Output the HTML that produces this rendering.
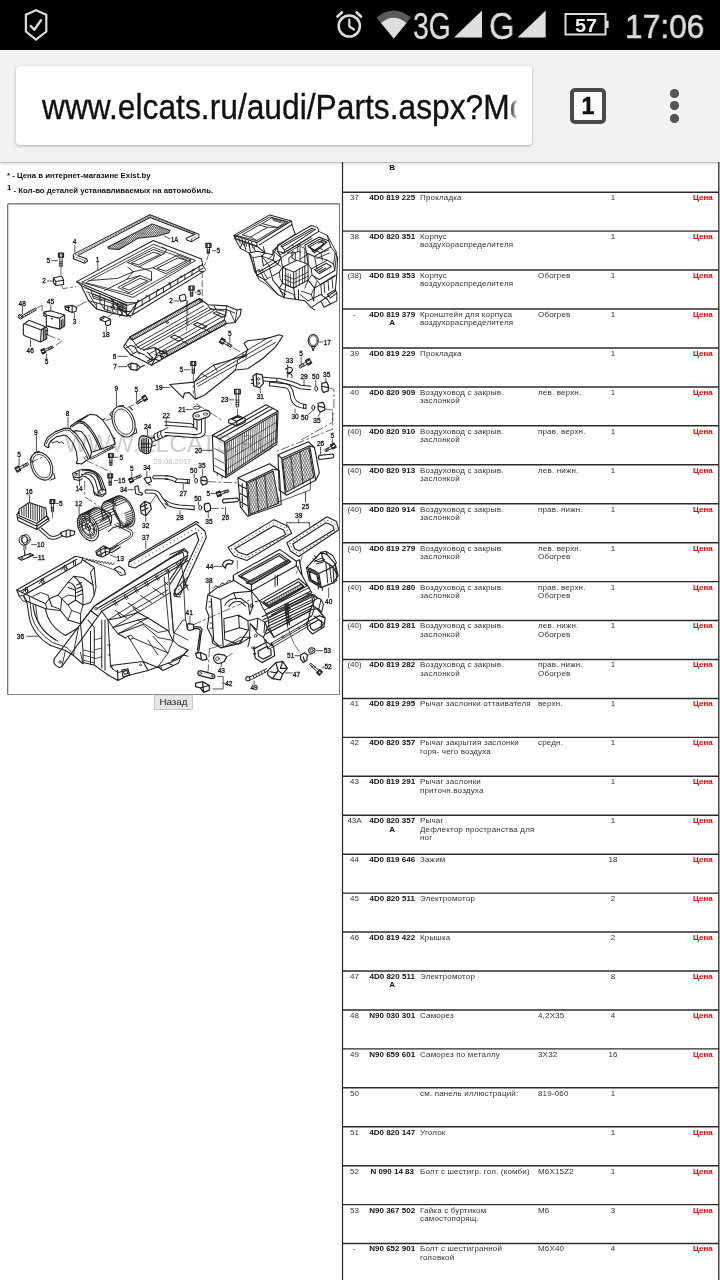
<!DOCTYPE html>
<html>
<head>
<meta charset="utf-8">
<style>
html,body{margin:0;padding:0;}
body{width:720px;height:1280px;overflow:hidden;background:#fff;position:relative;font-family:"Liberation Sans",sans-serif;}
.abs{position:absolute;}
.st{color:#dedede;white-space:nowrap;transform-origin:0 50%;}
#status{left:0;top:0;width:720px;height:50px;background:#000;}
.st{will-change:transform;}
#toolbar{left:0;top:50px;width:720px;height:112px;background:#f2f2f2;box-shadow:0 1px 2px rgba(0,0,0,0.35);z-index:5;}
#urlbox{will-change:transform;left:16px;top:16px;width:516px;height:79px;background:#fff;border-radius:4px;box-shadow:0 1px 3px rgba(0,0,0,0.3);overflow:hidden;}
#url{left:26px;top:20.5px;font-size:35.5px;line-height:40px;color:#111;white-space:nowrap;transform-origin:0 50%;transform:scaleX(0.8945);-webkit-text-stroke:0.35px #111;}
#urlfade{right:0;top:0;width:32px;height:79px;background:linear-gradient(to right,rgba(255,255,255,0) 30%,#fff 56%);}
#tabs{will-change:transform;left:570px;top:38px;width:28px;height:28px;border:4px solid #4a4a4a;border-radius:5px;text-align:center;font-weight:bold;font-size:23px;line-height:29px;color:#111;background:#fbfbfb;-webkit-text-stroke:0.5px #111;}
.dot{width:8.6px;height:8.6px;border-radius:50%;background:#555;left:670px;}
#page{left:0;top:162px;width:720px;height:1118px;overflow:hidden;will-change:transform;}
.note{font-size:7.8px;font-weight:bold;color:#111;white-space:nowrap;}
#diagram{left:7px;top:41px;width:333px;height:492px;}
#back{left:154px;top:533px;width:39px;height:15px;background:#e6e6e6;border:1px solid #c8c8c8;border-top-color:#ddd;box-sizing:border-box;font-size:9.8px;line-height:12px;text-align:center;color:#222;}
#tbl{left:342px;top:0;width:377px;height:1118px;box-sizing:border-box;}
.row{position:absolute;left:0;width:375px;height:39px;font-size:8px;line-height:8.4px;color:#333;box-sizing:border-box;}
.row div{position:absolute;top:2.5px;white-space:nowrap;}
.n{left:2.5px;width:20px;text-align:center;}
.p{left:23.2px;width:54px;text-align:center;font-weight:bold;color:#111;}
.d{left:78px;letter-spacing:0.17px;}
.r{left:196px;letter-spacing:0.17px;}
.q{left:257px;width:28px;text-align:center;}
.c{left:351px;color:#e00;font-weight:bold;}
</style>
</head>
<body>
<div id="status" class="abs">
<svg class="abs" style="left:0;top:0" width="720" height="50" viewBox="0 0 720 50">
<g fill="none" stroke="#dcdcdc" stroke-width="2.2" stroke-linejoin="round" stroke-linecap="round">
<path d="M36 10.3 L46.3 14.8 V31.5 L36 39.6 L25.9 31.5 V14.8 Z" stroke-linejoin="miter"/>
<path d="M30.8 26 L34.3 29.8 L41 20.2" stroke-width="2.4"/>
<circle cx="349.3" cy="26" r="10.6" stroke-width="2.5"/>
<path d="M349.3 19.5 V26.5 L354 29.5" stroke-width="2.2"/>
<path d="M337.5 16.5 L342 12.3 M361 16.5 L356.5 12.3" stroke-width="2.6"/>
</g>
<path d="M393.8 38.5 L376.5 17.5 Q393.8 3.5 411 17.5 Z" fill="#5a5a5a"/>
<path d="M393.8 38.5 L381 23 Q393.8 12.5 406.5 23 Z" fill="#dedede"/>
<path d="M482 10.5 V37.5 H454 Z" fill="#dedede"/>
<path d="M545.7 10.5 V37.5 H517.5 Z" fill="#dedede"/>
<rect x="565.5" y="14" width="40" height="20.5" fill="none" stroke="#dcdcdc" stroke-width="2"/>
<rect x="606" y="20.8" width="2.6" height="7.2" fill="#dcdcdc"/>
</svg>
<div class="abs st" style="left:413px;top:6.5px;font-size:36.5px;line-height:40px;transform:scaleX(0.775);-webkit-text-stroke:0.3px #dedede;">3G</div>
<div class="abs st" style="left:489px;top:6.5px;font-size:36.5px;line-height:40px;transform:scaleX(0.9);-webkit-text-stroke:0.3px #dedede;">G</div>
<div class="abs st" style="left:575px;top:15.8px;font-size:18px;line-height:20px;font-weight:bold;transform:scaleX(1.1);color:#f0f0f0">57</div>
<div class="abs st" style="left:624.5px;top:7px;font-size:33.2px;line-height:40px;transform:scaleX(0.955);-webkit-text-stroke:0.5px #dedede;">17:06</div>
</div>
<div id="toolbar" class="abs">
  <div id="urlbox" class="abs"><div id="url" class="abs">www.elcats.ru/audi/Parts.aspx?Model=</div><div id="urlfade" class="abs"></div></div>
  <div id="tabs" class="abs">1</div>
  <div class="abs dot" style="top:39px"></div><div class="abs dot" style="top:51px"></div><div class="abs dot" style="top:64px"></div>
</div>
<div id="page" class="abs">
  <div class="abs note" style="left:7px;top:9px;">* - Цена в интернет-магазине Exist.by</div>
  <div class="abs note" style="left:7px;top:24px;"><span style="position:relative;top:-3px;">1</span> - Кол-во деталей устанавливаемых на автомобиль.</div>
  <svg id="diagram" class="abs" viewBox="0 0 333 492" width="333" height="492">
<rect x="0.7" y="0.8" width="332" height="491" fill="#fff" stroke="#666" stroke-width="1.2" rx="1"/>
<!--DIAGRAM-->
<g font-family="Liberation Sans, sans-serif" stroke-linejoin="round" stroke-linecap="round">
<!--WATERMARK--><text x="57.6" y="249" font-size="24.5" fill="#cdcdcd" textLength="210" lengthAdjust="spacing">WWW.ELCATS.RU</text><text x="146.4" y="261.3" font-size="8" fill="#bdbdbd" textLength="38" lengthAdjust="spacingAndGlyphs">29.08.2017</text>
<g transform="translate(53.00 2.00) scale(0.22222)">
<path d="M60,222 L405,44 L625,132 L625,145 L592,165 L568,156 L568,150 L605,133 L405,56 L80,228 L120,242 L124,252 L110,262 L60,242 Z" fill="none" stroke="#222" stroke-width="1.01" vector-effect="non-scaling-stroke"/>
<path d="M70,226 L405,50 L614,132 M60,232 L110,250 L122,244 M110,250 V262 M592,154 V165 M592,154 L615,140" fill="none" stroke="#222" stroke-width="0.67" vector-effect="non-scaling-stroke" stroke-dasharray="1.5 1.5"/>
<clipPath id="h1a"><path d="M215,190 L415,85 L495,115 L490,125 L440,140 L350,150 L265,200 L220,197 Z"/></clipPath>
<g clip-path="url(#h1a)">
<path d="M-180,200 L-84,85 M-180,85 L-84,200 M-171,200 L-74,85 M-171,85 L-74,200 M-161,200 L-65,85 M-161,85 L-65,200 M-152,200 L-55,85 M-152,85 L-55,200 M-142,200 L-46,85 M-142,85 L-46,200 M-133,200 L-36,85 M-133,85 L-36,200 M-123,200 L-27,85 M-123,85 L-27,200 M-114,200 L-17,85 M-114,85 L-17,200 M-104,200 L-8,85 M-104,85 L-8,200 M-95,200 L2,85 M-95,85 L2,200 M-86,200 L11,85 M-86,85 L11,200 M-76,200 L20,85 M-76,85 L20,200 M-67,200 L30,85 M-67,85 L30,200 M-57,200 L39,85 M-57,85 L39,200 M-48,200 L49,85 M-48,85 L49,200 M-38,200 L58,85 M-38,85 L58,200 M-29,200 L68,85 M-29,85 L68,200 M-19,200 L77,85 M-19,85 L77,200 M-10,200 L87,85 M-10,85 L87,200 M-0,200 L96,85 M-0,85 L96,200 M9,200 L105,85 M9,85 L105,200 M18,200 L115,85 M18,85 L115,200 M28,200 L124,85 M28,85 L124,200 M37,200 L134,85 M37,85 L134,200 M47,200 L143,85 M47,85 L143,200 M56,200 L153,85 M56,85 L153,200 M66,200 L162,85 M66,85 L162,200 M75,200 L172,85 M75,85 L172,200 M85,200 L181,85 M85,85 L181,200 M94,200 L191,85 M94,85 L191,200 M104,200 L200,85 M104,85 L200,200 M113,200 L209,85 M113,85 L209,200 M122,200 L219,85 M122,85 L219,200 M132,200 L228,85 M132,85 L228,200 M141,200 L238,85 M141,85 L238,200 M151,200 L247,85 M151,85 L247,200 M160,200 L257,85 M160,85 L257,200 M170,200 L266,85 M170,85 L266,200 M179,200 L276,85 M179,85 L276,200 M189,200 L285,85 M189,85 L285,200 M198,200 L294,85 M198,85 L294,200 M207,200 L304,85 M207,85 L304,200 M217,200 L313,85 M217,85 L313,200 M226,200 L323,85 M226,85 L323,200 M236,200 L332,85 M236,85 L332,200 M245,200 L342,85 M245,85 L342,200 M255,200 L351,85 M255,85 L351,200 M264,200 L361,85 M264,85 L361,200 M274,200 L370,85 M274,85 L370,200 M283,200 L380,85 M283,85 L380,200 M292,200 L389,85 M292,85 L389,200 M302,200 L398,85 M302,85 L398,200 M311,200 L408,85 M311,85 L408,200 M321,200 L417,85 M321,85 L417,200 M330,200 L427,85 M330,85 L427,200 M340,200 L436,85 M340,85 L436,200 M349,200 L446,85 M349,85 L446,200 M359,200 L455,85 M359,85 L455,200 M368,200 L465,85 M368,85 L465,200 M378,200 L474,85 M378,85 L474,200 M387,200 L483,85 M387,85 L483,200 M396,200 L493,85 M396,85 L493,200 M406,200 L502,85 M406,85 L502,200 M415,200 L512,85 M415,85 L512,200 M425,200 L521,85 M425,85 L521,200 M434,200 L531,85 M434,85 L531,200 M444,200 L540,85 M444,85 L540,200 M453,200 L550,85 M453,85 L550,200 M463,200 L559,85 M463,85 L559,200 M472,200 L569,85 M472,85 L569,200 M481,200 L578,85 M481,85 L578,200 M491,200 L587,85 M491,85 L587,200 M500,200 L597,85 M500,85 L597,200 M510,200 L606,85 M510,85 L606,200 M519,200 L616,85 M519,85 L616,200 M529,200 L625,85 M529,85 L625,200 M538,200 L635,85 M538,85 L635,200 M548,200 L644,85 M548,85 L644,200 M557,200 L654,85 M557,85 L654,200 M567,200 L663,85 M567,85 L663,200 M576,200 L672,85 M576,85 L672,200 M585,200 L682,85 M585,85 L682,200 M595,200 L691,85 M595,85 L691,200 M604,200 L701,85 M604,85 L701,200 M614,200 L710,85 M614,85 L710,200 M623,200 L720,85 M623,85 L720,200 M633,200 L729,85 M633,85 L729,200 M642,200 L739,85 M642,85 L739,200 M652,200 L748,85 M652,85 L748,200 M661,200 L758,85 M661,85 L758,200 M671,200 L767,85 M671,85 L767,200 M680,200 L776,85 M680,85 L776,200 M689,200 L786,85 M689,85 L786,200 M699,200 L795,85 M699,85 L795,200 M708,200 L805,85 M708,85 L805,200 M718,200 L814,85 M718,85 L814,200 M727,200 L824,85 M727,85 L824,200 M737,200 L833,85 M737,85 L833,200 M746,200 L843,85 M746,85 L843,200 M756,200 L852,85 M756,85 L852,200 M765,200 L861,85 M765,85 L861,200 M774,200 L871,85 M774,85 L871,200 M784,200 L880,85 M784,85 L880,200 M793,200 L890,85 M793,85 L890,200 M803,200 L899,85 M803,85 L899,200 M812,200 L909,85 M812,85 L909,200 M822,200 L918,85 M822,85 L918,200 M831,200 L928,85 M831,85 L928,200 M841,200 L937,85 M841,85 L937,200 M850,200 L947,85 M850,85 L947,200 M860,200 L956,85 M860,85 L956,200 M869,200 L965,85 M869,85 L965,200 M878,200 L975,85 M878,85 L975,200 M888,200 L984,85 M888,85 L984,200 " fill="none" stroke="#333" stroke-width="0.62" vector-effect="non-scaling-stroke"/>
</g>
<path d="M215,190 L415,85 L495,115 L490,125 L440,140 L350,150 L265,200 L220,197 Z" fill="none" stroke="#222" stroke-width="1.01" vector-effect="non-scaling-stroke"/>
<text x="516" y="157" font-size="32.9" fill="#111" stroke="#111" stroke-width="0.3" vector-effect="non-scaling-stroke" text-anchor="middle" dominant-baseline="central" font-weight="normal" textLength="32.9" lengthAdjust="spacingAndGlyphs">1A</text>
<path d="M470,140 L495,152" fill="none" stroke="#222" stroke-width="0.78" vector-effect="non-scaling-stroke"/>
<text x="66" y="166" font-size="32.9" fill="#111" stroke="#111" stroke-width="0.3" vector-effect="non-scaling-stroke" text-anchor="middle" dominant-baseline="central" font-weight="normal" textLength="16.4" lengthAdjust="spacingAndGlyphs">4</text>
<path d="M67,182 V213" fill="none" stroke="#222" stroke-width="0.78" vector-effect="non-scaling-stroke"/>
<text x="169" y="246" font-size="32.9" fill="#111" stroke="#111" stroke-width="0.3" vector-effect="non-scaling-stroke" text-anchor="middle" dominant-baseline="central" font-weight="normal" textLength="16.4" lengthAdjust="spacingAndGlyphs">1</text>
<path d="M170,260 V292" fill="none" stroke="#222" stroke-width="0.78" vector-effect="non-scaling-stroke"/>
<path d="M75,345 L420,160 L637,243 L642,268 L345,440 L300,440 Z" fill="none" stroke="#222" stroke-width="1.01" vector-effect="non-scaling-stroke"/>
<path d="M100,347 L420,177 L610,250 L330,415 Z" fill="none" stroke="#222" stroke-width="0.9" vector-effect="non-scaling-stroke"/>
<path d="M118,349 L420,190 L590,255 L325,402 Z" fill="none" stroke="#222" stroke-width="0.78" vector-effect="non-scaling-stroke"/>
<path d="M75,345 L95,362 L128,430 L165,468 L215,482 L300,500 L325,495 L345,440" fill="none" stroke="#222" stroke-width="1.12" vector-effect="non-scaling-stroke"/>
<path d="M95,362 L300,452 L345,440 M300,452 V500 M128,430 L215,455 L215,482 M165,468 V440 M215,455 L300,475 M180,400 V445 M240,425 V470 M140,385 L150,420 L190,430" fill="none" stroke="#222" stroke-width="0.9" vector-effect="non-scaling-stroke"/>
<path d="M150,400 L290,455 M150,410 L290,465 M130,400 L160,450 M120,390 L300,462 M200,420 V470 M260,440 V490 M280,450 V495 M110,372 L300,448 M230,455 L240,485 M185,445 L200,470 L230,478" fill="none" stroke="#222" stroke-width="0.9" vector-effect="non-scaling-stroke"/>
<path d="M325,495 L645,300 M335,470 L643,285 M300,500 L320,478 M320,478 L345,440" fill="none" stroke="#222" stroke-width="1.01" vector-effect="non-scaling-stroke"/>
<path d="M370,452 v-22" fill="none" stroke="#222" stroke-width="0.9" vector-effect="non-scaling-stroke"/>
<path d="M402,432 v-22" fill="none" stroke="#222" stroke-width="0.9" vector-effect="non-scaling-stroke"/>
<path d="M434,413 v-22" fill="none" stroke="#222" stroke-width="0.9" vector-effect="non-scaling-stroke"/>
<path d="M466,394 v-22" fill="none" stroke="#222" stroke-width="0.9" vector-effect="non-scaling-stroke"/>
<path d="M498,374 v-22" fill="none" stroke="#222" stroke-width="0.9" vector-effect="non-scaling-stroke"/>
<path d="M530,354 v-22" fill="none" stroke="#222" stroke-width="0.9" vector-effect="non-scaling-stroke"/>
<path d="M562,335 v-22" fill="none" stroke="#222" stroke-width="0.9" vector-effect="non-scaling-stroke"/>
<path d="M594,316 v-22" fill="none" stroke="#222" stroke-width="0.9" vector-effect="non-scaling-stroke"/>
<path d="M626,296 v-22" fill="none" stroke="#222" stroke-width="0.9" vector-effect="non-scaling-stroke"/>
<path d="M255,470 L300,480 L320,478 M270,440 L300,452 M262,455 L298,468" fill="none" stroke="#222" stroke-width="1.12" vector-effect="non-scaling-stroke"/>
<path d="M305,258 L420,200 L470,218 L355,278 Z M322,260 L420,212 L452,222 L355,268 Z" fill="none" stroke="#222" stroke-width="0.9" vector-effect="non-scaling-stroke"/>
<path d="M420,282 L530,225 L590,247 L478,308 Z M438,284 L530,238 L570,250 L478,297 Z" fill="none" stroke="#222" stroke-width="0.9" vector-effect="non-scaling-stroke"/>
<path d="M262,370 L360,318 L412,338 L312,394 Z M280,371 L360,330 L394,341 L312,382 Z" fill="none" stroke="#222" stroke-width="0.9" vector-effect="non-scaling-stroke"/>
<path d="M200,385 L300,335 L330,300 L305,280 M300,335 L360,318 M330,300 L420,282 M355,278 L412,300 L412,338 M130,340 L260,330 L330,300 M470,218 L480,200 L460,190" fill="none" stroke="#222" stroke-width="0.9" vector-effect="non-scaling-stroke"/>
<circle cx="600" cy="292" r="4" fill="none" stroke="#2a2a2a" stroke-width="0.8" vector-effect="non-scaling-stroke"/>
<circle cx="545" cy="323" r="4" fill="none" stroke="#2a2a2a" stroke-width="0.8" vector-effect="non-scaling-stroke"/>
<circle cx="492" cy="353" r="4" fill="none" stroke="#2a2a2a" stroke-width="0.8" vector-effect="non-scaling-stroke"/>
<circle cx="440" cy="383" r="4" fill="none" stroke="#2a2a2a" stroke-width="0.8" vector-effect="non-scaling-stroke"/>
<circle cx="390" cy="410" r="4" fill="none" stroke="#2a2a2a" stroke-width="0.8" vector-effect="non-scaling-stroke"/>
<circle cx="352" cy="432" r="4" fill="none" stroke="#2a2a2a" stroke-width="0.8" vector-effect="non-scaling-stroke"/>
<path d="M640,270 L655,290 L650,300 L630,300" fill="none" stroke="#222" stroke-width="0.9" vector-effect="non-scaling-stroke"/>
<g transform="translate(668 183) rotate(0)">
<path d="M-11.7,-10.5 H11.7 V8.2 H-11.7 Z M-5.9,-10.5 V8.2 M5.9,-10.5 V8.2" fill="none" stroke="#222" stroke-width="1.12" vector-effect="non-scaling-stroke"/>
<path d="M-5.3,8.2 V36.0 H5.3 V8.2 M-5.3,19.8 H5.3 M-5.3,25.2 H5.3 M-5.3,30.6 H5.3" fill="none" stroke="#222" stroke-width="0.9" vector-effect="non-scaling-stroke"/>
</g>
<text x="712" y="207" font-size="32.9" fill="#111" stroke="#111" stroke-width="0.3" vector-effect="non-scaling-stroke" text-anchor="middle" dominant-baseline="central" font-weight="normal" textLength="16.4" lengthAdjust="spacingAndGlyphs">5</text>
<path d="M686,206 H700" fill="none" stroke="#222" stroke-width="0.78" vector-effect="non-scaling-stroke"/>
<path d="M668,225 L655,262 L640,285" fill="none" stroke="#222" stroke-width="0.67" vector-effect="non-scaling-stroke" stroke-dasharray="5 3"/>
<g transform="translate(592 375) rotate(0)">
<path d="M-11.7,-10.5 H11.7 V8.2 H-11.7 Z M-5.9,-10.5 V8.2 M5.9,-10.5 V8.2" fill="none" stroke="#222" stroke-width="1.12" vector-effect="non-scaling-stroke"/>
<path d="M-5.3,8.2 V36.0 H5.3 V8.2 M-5.3,19.8 H5.3 M-5.3,25.2 H5.3 M-5.3,30.6 H5.3" fill="none" stroke="#222" stroke-width="0.9" vector-effect="non-scaling-stroke"/>
</g>
<text x="626" y="393" font-size="32.9" fill="#111" stroke="#111" stroke-width="0.3" vector-effect="non-scaling-stroke" text-anchor="middle" dominant-baseline="central" font-weight="normal" textLength="16.4" lengthAdjust="spacingAndGlyphs">5</text>
<path d="M608,393 H614" fill="none" stroke="#222" stroke-width="0.78" vector-effect="non-scaling-stroke"/>
<path d="M538,408 L560,402 L566,412 L566,428 L545,434 L538,424 Z" fill="none" stroke="#222" stroke-width="1.12" vector-effect="non-scaling-stroke"/>
<text x="500" y="432" font-size="32.9" fill="#111" stroke="#111" stroke-width="0.3" vector-effect="non-scaling-stroke" text-anchor="middle" dominant-baseline="central" font-weight="normal" textLength="16.4" lengthAdjust="spacingAndGlyphs">2</text>
<path d="M512,432 H535" fill="none" stroke="#222" stroke-width="0.78" vector-effect="non-scaling-stroke"/>
<path d="M575,430 V540 M640,300 V440" fill="none" stroke="#222" stroke-width="0.67" vector-effect="non-scaling-stroke" stroke-dasharray="6 3"/>
</g>
<g transform="translate(218.00 2.00) scale(0.15974)">
<path d="M55,190 L280,62 L415,100 L200,235 Z M55,190 L62,208 L200,257 L200,235 M415,100 L420,122 L215,250" fill="none" stroke="#222" stroke-width="1.01" vector-effect="non-scaling-stroke"/>
<path d="M110,185 L215,125 L265,140 L160,200 Z M235,115 L290,82 L380,105 L330,140 Z M75,190 L280,75 L395,105 L200,222 Z" fill="none" stroke="#222" stroke-width="0.9" vector-effect="non-scaling-stroke"/>
<path d="M215,125 L235,115 M265,140 L330,140 M160,200 L200,222 M300,90 L360,108 M305,97 L350,111" fill="none" stroke="#222" stroke-width="0.78" vector-effect="non-scaling-stroke"/>
<path d="M200,257 L250,300 L300,312 L330,257 L440,182 L418,122 M250,300 L240,262 M300,312 L300,285 L330,257" fill="none" stroke="#222" stroke-width="1.01" vector-effect="non-scaling-stroke"/>
<path d="M330,250 L540,128 L580,140 L587,165 L372,300 L330,290 Z M350,256 L540,146 L566,153 L372,282 Z M360,262 L545,156 M372,300 V282" fill="none" stroke="#222" stroke-width="1.01" vector-effect="non-scaling-stroke"/>
<path d="M500,250 L590,200 L650,225 L662,262 L560,322 L510,300 Z M520,255 L590,215 L635,235 L560,300 Z M530,262 L590,228 L620,240 L560,288 Z" fill="none" stroke="#222" stroke-width="1.01" vector-effect="non-scaling-stroke"/>
<path d="M540,400 L640,345 L680,370 L687,410 L590,466 L545,440 Z M560,405 L635,365 L665,385 L590,430 Z M575,412 L610,392 M590,418 L630,395 M600,425 L650,395" fill="none" stroke="#222" stroke-width="1.01" vector-effect="non-scaling-stroke"/>
<path d="M587,165 L640,190 L650,225 M662,262 L690,300 L680,370 M510,300 L520,370 L540,400 M560,322 L575,395 M640,190 L700,300 L687,410" fill="none" stroke="#222" stroke-width="0.9" vector-effect="non-scaling-stroke"/>
<path d="M360,390 L450,345 L520,370 L520,470 L430,520 L360,490 Z M360,390 L430,420 L520,370 M430,420 V520 M380,400 V497 M500,380 V480" fill="none" stroke="#222" stroke-width="1.01" vector-effect="non-scaling-stroke"/>
<path d="M440,300 V350 M470,295 V355 M440,300 L455,290 L470,295 M420,330 L440,345 M470,340 L500,320 L500,365 M400,360 L400,330 L430,310" fill="none" stroke="#222" stroke-width="0.9" vector-effect="non-scaling-stroke"/>
<path d="M360,490 L340,520 L370,580 L500,600 L540,642 L600,602 L690,540 L700,430 M430,520 L440,590 M520,470 L560,520 L690,440 M560,520 L555,600 M370,580 L380,500 M460,530 V595 M520,600 L600,560 L640,590 M640,560 L690,530 L700,552 L660,582 Z" fill="none" stroke="#222" stroke-width="1.01" vector-effect="non-scaling-stroke"/>
<path d="M62,208 L95,270 L150,300 L200,440 L250,470 L330,560 L370,580 M95,270 L110,235 M150,300 L200,290 L250,300 M150,250 L160,295 M180,262 L190,290 M120,240 L130,280" fill="none" stroke="#222" stroke-width="1.01" vector-effect="non-scaling-stroke"/>
<path d="M200,440 L330,370 L352,330 L330,290 M210,420 L320,355 M230,320 L300,345 L330,370 M230,320 L250,300 M250,470 L340,420 L360,390 M200,440 L190,420 L215,405 M280,400 L300,470 L340,520 M230,320 L240,380 M300,345 L310,312" fill="none" stroke="#222" stroke-width="1.01" vector-effect="non-scaling-stroke"/>
<path d="M330,370 L350,385 M320,355 L345,340 M262,360 L285,395 M340,420 L345,460 L360,490" fill="none" stroke="#222" stroke-width="0.9" vector-effect="non-scaling-stroke"/>
<path d="M85,200 L95,240 M105,207 L115,250 M125,215 L135,258 M145,222 L155,265 M165,230 L175,270 M70,215 L200,262 M62,208 L75,190" fill="none" stroke="#222" stroke-width="0.9" vector-effect="non-scaling-stroke"/>
<path d="M300,285 L350,330 L400,300 M350,330 L360,390 M400,300 L440,300 M330,290 L345,310 L372,300 M380,290 L540,200 M390,300 L545,210" fill="none" stroke="#222" stroke-width="0.9" vector-effect="non-scaling-stroke"/>
<path d="M520,262 L600,300 L650,280 M600,300 L610,345 M560,322 L640,345 M575,335 L655,300 M600,210 L640,235 M610,225 L585,240 M545,290 L585,268 L612,280" fill="none" stroke="#222" stroke-width="0.9" vector-effect="non-scaling-stroke"/>
<path d="M560,455 L600,500 L690,445 M600,500 L605,560 M575,480 L560,520 M620,490 L625,550 M645,475 L650,535 M670,460 L675,520 M540,440 L520,470" fill="none" stroke="#222" stroke-width="0.9" vector-effect="non-scaling-stroke"/>
<path d="M380,500 L430,522 M395,430 V500 M410,436 V510 M445,415 V515 M465,402 V505 M485,392 V492 M372,440 L430,465 L520,420 M372,465 L430,490 L520,445" fill="none" stroke="#222" stroke-width="0.78" vector-effect="non-scaling-stroke"/>
<path d="M240,380 L300,345 M215,405 L250,470 M230,400 L262,455 M200,440 L215,470 L250,490 L330,560 M262,360 L230,320 M270,340 L300,312 M150,300 L175,330 L230,320 M175,330 L200,440 M160,310 L185,420" fill="none" stroke="#222" stroke-width="0.9" vector-effect="non-scaling-stroke"/>
<path d="M340,520 L430,560 L440,590 M345,540 L380,560 M470,560 L520,600 M480,540 L540,560 L555,600 M540,560 L560,520 M500,520 L520,470" fill="none" stroke="#222" stroke-width="0.9" vector-effect="non-scaling-stroke"/>
<path d="M455,290 L455,250 L470,245 L470,295 M440,300 L420,290 L420,330 M500,320 L520,310 L520,370 M425,255 L440,262 M480,262 L500,272 L500,320" fill="none" stroke="#222" stroke-width="0.9" vector-effect="non-scaling-stroke"/>
<path d="M690,300 L705,330 L700,430 M640,590 L660,620 L700,600 L700,552 M600,602 L620,640 L660,620 M540,642 L560,657" fill="none" stroke="#222" stroke-width="1.01" vector-effect="non-scaling-stroke"/>
</g>
<g transform="translate(1.00 92.00) scale(0.16667)">
<text x="85" y="48" font-size="43.8" fill="#111" stroke="#111" stroke-width="0.3" vector-effect="non-scaling-stroke" text-anchor="middle" dominant-baseline="central" font-weight="normal" textLength="43.8" lengthAdjust="spacingAndGlyphs">48</text>
<path d="M87,68 V112" fill="none" stroke="#222" stroke-width="0.78" vector-effect="non-scaling-stroke"/>
<circle cx="75" cy="130" r="14" fill="none" stroke="#2a2a2a" stroke-width="1.0" vector-effect="non-scaling-stroke"/>
<circle cx="75" cy="130" r="7" fill="none" stroke="#2a2a2a" stroke-width="0.8" vector-effect="non-scaling-stroke"/>
<path d="M88,122 L165,78 M92,134 L170,90 M100,115 l6,12 M112,108 l6,12 M124,101 l6,12 M136,94 l6,12 M148,87 l6,12 M160,80 l6,12" fill="none" stroke="#222" stroke-width="0.9" vector-effect="non-scaling-stroke"/>
<path d="M170,80 L205,62 V95" fill="none" stroke="#222" stroke-width="0.67" vector-effect="non-scaling-stroke"/>
<text x="255" y="40" font-size="43.8" fill="#111" stroke="#111" stroke-width="0.3" vector-effect="non-scaling-stroke" text-anchor="middle" dominant-baseline="central" font-weight="normal" textLength="43.8" lengthAdjust="spacingAndGlyphs">45</text>
<path d="M257,60 V95" fill="none" stroke="#222" stroke-width="0.78" vector-effect="non-scaling-stroke"/>
<path d="M230,120 L310,140 L310,205 L230,185 Z M215,103 L255,95 L340,120 L310,140 L230,120 Z M340,120 V185 L310,205 M320,150 V198 M330,145 V192 M215,103 V125 L230,130" fill="none" stroke="#222" stroke-width="1.12" vector-effect="non-scaling-stroke"/>
<circle cx="262" cy="142" r="4" fill="none" stroke="#2a2a2a" stroke-width="0.7" vector-effect="non-scaling-stroke"/>
<path d="M100,172 L125,152 L225,190 L200,210 Z M92,180 Q92,172 100,172 L200,210 L195,282 L100,245 Q92,240 92,232 Z M200,210 L225,190 L236,200 L232,262 L195,282 M212,205 V272 M222,197 V266 M225,215 h14 M225,235 h14" fill="none" stroke="#222" stroke-width="1.12" vector-effect="non-scaling-stroke"/>
<text x="133" y="330" font-size="43.8" fill="#111" stroke="#111" stroke-width="0.3" vector-effect="non-scaling-stroke" text-anchor="middle" dominant-baseline="central" font-weight="normal" textLength="43.8" lengthAdjust="spacingAndGlyphs">46</text>
<path d="M135,268 V310" fill="none" stroke="#222" stroke-width="0.78" vector-effect="non-scaling-stroke"/>
<path d="M238,240 L325,275 L290,300" fill="none" stroke="#222" stroke-width="0.67" vector-effect="non-scaling-stroke" stroke-dasharray="8 3 2 3"/>
<g transform="translate(213 337) rotate(-115)">
<path d="M-13.0,-11.7 H13.0 V9.1 H-13.0 Z M-6.5,-11.7 V9.1 M6.5,-11.7 V9.1" fill="none" stroke="#222" stroke-width="1.12" vector-effect="non-scaling-stroke"/>
<path d="M-5.9,9.1 V62.0 H5.9 V9.1 M-5.9,34.1 H5.9 M-5.9,43.4 H5.9 M-5.9,52.7 H5.9" fill="none" stroke="#222" stroke-width="0.9" vector-effect="non-scaling-stroke"/>
</g>
<text x="232" y="400" font-size="43.8" fill="#111" stroke="#111" stroke-width="0.3" vector-effect="non-scaling-stroke" text-anchor="middle" dominant-baseline="central" font-weight="normal" textLength="21.9" lengthAdjust="spacingAndGlyphs">5</text>
<path d="M232,355 V380" fill="none" stroke="#222" stroke-width="0.78" vector-effect="non-scaling-stroke"/>
<path d="M340,68 L385,62 L412,75 L408,98 L385,105 L365,98 L345,85 Z M360,68 L365,98 M385,62 V105 M350,75 h20" fill="none" stroke="#222" stroke-width="1.12" vector-effect="non-scaling-stroke"/>
<text x="400" y="160" font-size="43.8" fill="#111" stroke="#111" stroke-width="0.3" vector-effect="non-scaling-stroke" text-anchor="middle" dominant-baseline="central" font-weight="normal" textLength="21.9" lengthAdjust="spacingAndGlyphs">3</text>
<path d="M398,107 V140" fill="none" stroke="#222" stroke-width="0.78" vector-effect="non-scaling-stroke"/>
<path d="M415,68 L470,40" fill="none" stroke="#222" stroke-width="0.67" vector-effect="non-scaling-stroke"/>
<path d="M553,140 L575,128 L615,145 L615,175 L600,185 L585,178 L585,160 L553,150 Z M585,160 L615,145 M575,128 V140 L553,150" fill="none" stroke="#222" stroke-width="1.12" vector-effect="non-scaling-stroke"/>
<text x="588" y="238" font-size="43.8" fill="#111" stroke="#111" stroke-width="0.3" vector-effect="non-scaling-stroke" text-anchor="middle" dominant-baseline="central" font-weight="normal" textLength="43.8" lengthAdjust="spacingAndGlyphs">18</text>
<path d="M590,190 V218" fill="none" stroke="#222" stroke-width="0.78" vector-effect="non-scaling-stroke"/>
<path d="M600,130 L650,100" fill="none" stroke="#222" stroke-width="0.67" vector-effect="non-scaling-stroke"/>
<text x="640" y="368" font-size="43.8" fill="#111" stroke="#111" stroke-width="0.3" vector-effect="non-scaling-stroke" text-anchor="middle" dominant-baseline="central" font-weight="normal" textLength="21.9" lengthAdjust="spacingAndGlyphs">6</text>
<path d="M660,368 H715" fill="none" stroke="#222" stroke-width="0.78" vector-effect="non-scaling-stroke"/>
<text x="643" y="430" font-size="43.8" fill="#111" stroke="#111" stroke-width="0.3" vector-effect="non-scaling-stroke" text-anchor="middle" dominant-baseline="central" font-weight="normal" textLength="21.9" lengthAdjust="spacingAndGlyphs">7</text>
<path d="M660,430 H712" fill="none" stroke="#222" stroke-width="0.78" vector-effect="non-scaling-stroke"/>
</g>
<g transform="translate(103.00 82.00) scale(0.20833)">
<path d="M65,295 L95,250 L430,65 L470,95 L560,100 L610,120 L630,115 L625,145 L600,180 L560,185 L250,355 L200,385 L170,370 L100,335 Z" fill="none" stroke="#222" stroke-width="1.12" vector-effect="non-scaling-stroke"/>
<clipPath id="h6a"><path d="M95,250 L430,65 L442,80 L107,264 Z"/></clipPath>
<g clip-path="url(#h6a)">
<path d="M-451,264 L-336,65 M-442,264 L-327,65 M-434,264 L-319,65 M-425,264 L-310,65 M-416,264 L-302,65 M-408,264 L-293,65 M-399,264 L-284,65 M-391,264 L-276,65 M-382,264 L-267,65 M-373,264 L-258,65 M-365,264 L-250,65 M-356,264 L-241,65 M-347,264 L-232,65 M-339,264 L-224,65 M-330,264 L-215,65 M-321,264 L-207,65 M-313,264 L-198,65 M-304,264 L-189,65 M-295,264 L-181,65 M-287,264 L-172,65 M-278,264 L-163,65 M-270,264 L-155,65 M-261,264 L-146,65 M-252,264 L-137,65 M-244,264 L-129,65 M-235,264 L-120,65 M-226,264 L-111,65 M-218,264 L-103,65 M-209,264 L-94,65 M-200,264 L-86,65 M-192,264 L-77,65 M-183,264 L-68,65 M-175,264 L-60,65 M-166,264 L-51,65 M-157,264 L-42,65 M-149,264 L-34,65 M-140,264 L-25,65 M-131,264 L-16,65 M-123,264 L-8,65 M-114,264 L1,65 M-105,264 L9,65 M-97,264 L18,65 M-88,264 L27,65 M-79,264 L35,65 M-71,264 L44,65 M-62,264 L53,65 M-54,264 L61,65 M-45,264 L70,65 M-36,264 L79,65 M-28,264 L87,65 M-19,264 L96,65 M-10,264 L105,65 M-2,264 L113,65 M7,264 L122,65 M16,264 L130,65 M24,264 L139,65 M33,264 L148,65 M41,264 L156,65 M50,264 L165,65 M59,264 L174,65 M67,264 L182,65 M76,264 L191,65 M85,264 L200,65 M93,264 L208,65 M102,264 L217,65 M111,264 L225,65 M119,264 L234,65 M128,264 L243,65 M137,264 L251,65 M145,264 L260,65 M154,264 L269,65 M162,264 L277,65 M171,264 L286,65 M180,264 L295,65 M188,264 L303,65 M197,264 L312,65 M206,264 L321,65 M214,264 L329,65 M223,264 L338,65 M232,264 L346,65 M240,264 L355,65 M249,264 L364,65 M257,264 L372,65 M266,264 L381,65 M275,264 L390,65 M283,264 L398,65 M292,264 L407,65 M301,264 L416,65 M309,264 L424,65 M318,264 L433,65 M327,264 L441,65 M335,264 L450,65 M344,264 L459,65 M353,264 L467,65 M361,264 L476,65 M370,264 L485,65 M378,264 L493,65 M387,264 L502,65 M396,264 L511,65 M404,264 L519,65 M413,264 L528,65 M422,264 L537,65 M430,264 L545,65 M439,264 L554,65 M448,264 L562,65 M456,264 L571,65 M465,264 L580,65 M473,264 L588,65 M482,264 L597,65 M491,264 L606,65 M499,264 L614,65 M508,264 L623,65 M517,264 L632,65 M525,264 L640,65 M534,264 L649,65 M543,264 L657,65 M551,264 L666,65 M560,264 L675,65 M569,264 L683,65 M577,264 L692,65 M586,264 L701,65 M594,264 L709,65 M603,264 L718,65 M612,264 L727,65 M620,264 L735,65 M629,264 L744,65 M638,264 L753,65 M646,264 L761,65 M655,264 L770,65 M664,264 L778,65 M672,264 L787,65 M681,264 L796,65 M689,264 L804,65 M698,264 L813,65 M707,264 L822,65 M715,264 L830,65 M724,264 L839,65 M733,264 L848,65 M741,264 L856,65 M750,264 L865,65 M759,264 L873,65 M767,264 L882,65 M776,264 L891,65 M785,264 L899,65 M793,264 L908,65 M802,264 L917,65 M810,264 L925,65 M819,264 L934,65 M828,264 L943,65 M836,264 L951,65 M845,264 L960,65 M854,264 L969,65 M862,264 L977,65 M871,264 L986,65 M880,264 L994,65 M888,264 L1003,65 M897,264 L1012,65 M905,264 L1020,65 M914,264 L1029,65 M923,264 L1038,65 M931,264 L1046,65 M940,264 L1055,65 M949,264 L1064,65 M957,264 L1072,65 M966,264 L1081,65 M975,264 L1089,65 M983,264 L1098,65 " fill="none" stroke="#333" stroke-width="0.67" vector-effect="non-scaling-stroke"/>
</g>
<path d="M95,250 L430,65 L442,80 L107,264 Z" fill="none" stroke="#222" stroke-width="1.01" vector-effect="non-scaling-stroke"/>
<clipPath id="h6b"><path d="M240,338 L550,168 L560,185 L250,355 Z"/></clipPath>
<g clip-path="url(#h6b)">
<path d="M-267,355 L-159,168 M-258,355 L-150,168 M-250,355 L-142,168 M-241,355 L-133,168 M-232,355 L-124,168 M-224,355 L-116,168 M-215,355 L-107,168 M-207,355 L-99,168 M-198,355 L-90,168 M-189,355 L-81,168 M-181,355 L-73,168 M-172,355 L-64,168 M-163,355 L-55,168 M-155,355 L-47,168 M-146,355 L-38,168 M-137,355 L-29,168 M-129,355 L-21,168 M-120,355 L-12,168 M-111,355 L-4,168 M-103,355 L5,168 M-94,355 L14,168 M-86,355 L22,168 M-77,355 L31,168 M-68,355 L40,168 M-60,355 L48,168 M-51,355 L57,168 M-42,355 L66,168 M-34,355 L74,168 M-25,355 L83,168 M-16,355 L92,168 M-8,355 L100,168 M1,355 L109,168 M9,355 L117,168 M18,355 L126,168 M27,355 L135,168 M35,355 L143,168 M44,355 L152,168 M53,355 L161,168 M61,355 L169,168 M70,355 L178,168 M79,355 L187,168 M87,355 L195,168 M96,355 L204,168 M105,355 L212,168 M113,355 L221,168 M122,355 L230,168 M130,355 L238,168 M139,355 L247,168 M148,355 L256,168 M156,355 L264,168 M165,355 L273,168 M174,355 L282,168 M182,355 L290,168 M191,355 L299,168 M200,355 L308,168 M208,355 L316,168 M217,355 L325,168 M225,355 L333,168 M234,355 L342,168 M243,355 L351,168 M251,355 L359,168 M260,355 L368,168 M269,355 L377,168 M277,355 L385,168 M286,355 L394,168 M295,355 L403,168 M303,355 L411,168 M312,355 L420,168 M321,355 L428,168 M329,355 L437,168 M338,355 L446,168 M346,355 L454,168 M355,355 L463,168 M364,355 L472,168 M372,355 L480,168 M381,355 L489,168 M390,355 L498,168 M398,355 L506,168 M407,355 L515,168 M416,355 L524,168 M424,355 L532,168 M433,355 L541,168 M441,355 L549,168 M450,355 L558,168 M459,355 L567,168 M467,355 L575,168 M476,355 L584,168 M485,355 L593,168 M493,355 L601,168 M502,355 L610,168 M511,355 L619,168 M519,355 L627,168 M528,355 L636,168 M537,355 L644,168 M545,355 L653,168 M554,355 L662,168 M562,355 L670,168 M571,355 L679,168 M580,355 L688,168 M588,355 L696,168 M597,355 L705,168 M606,355 L714,168 M614,355 L722,168 M623,355 L731,168 M632,355 L740,168 M640,355 L748,168 M649,355 L757,168 M657,355 L765,168 M666,355 L774,168 M675,355 L783,168 M683,355 L791,168 M692,355 L800,168 M701,355 L809,168 M709,355 L817,168 M718,355 L826,168 M727,355 L835,168 M735,355 L843,168 M744,355 L852,168 M753,355 L860,168 M761,355 L869,168 M770,355 L878,168 M778,355 L886,168 M787,355 L895,168 M796,355 L904,168 M804,355 L912,168 M813,355 L921,168 M822,355 L930,168 M830,355 L938,168 M839,355 L947,168 M848,355 L956,168 M856,355 L964,168 M865,355 L973,168 M873,355 L981,168 M882,355 L990,168 M891,355 L999,168 M899,355 L1007,168 M908,355 L1016,168 M917,355 L1025,168 M925,355 L1033,168 M934,355 L1042,168 M943,355 L1051,168 M951,355 L1059,168 M960,355 L1068,168 M969,355 L1076,168 M977,355 L1085,168 M986,355 L1094,168 M994,355 L1102,168 M1003,355 L1111,168 M1012,355 L1120,168 M1020,355 L1128,168 M1029,355 L1137,168 M1038,355 L1146,168 M1046,355 L1154,168 M1055,355 L1163,168 M1064,355 L1172,168 " fill="none" stroke="#333" stroke-width="0.67" vector-effect="non-scaling-stroke"/>
</g>
<path d="M240,338 L550,168 L560,185 L250,355 Z" fill="none" stroke="#222" stroke-width="1.01" vector-effect="non-scaling-stroke"/>
<path d="M130,300 L470,110 M160,315 L500,122 M75,285 L110,325 M107,264 L135,300 L165,312" fill="none" stroke="#222" stroke-width="0.9" vector-effect="non-scaling-stroke"/>
<path d="M290,250 L330,270 L350,260 L310,240 Z M400,190 L445,210 L465,200 L420,180 Z M495,135 L540,155 L555,148 L510,128 Z" fill="none" stroke="#222" stroke-width="1.01" vector-effect="non-scaling-stroke"/>
<path d="M165,310 L215,300 L250,320 L270,315 L275,340 M215,300 L225,335 L200,385 M225,335 L255,345 M180,325 L205,350 L180,365 M235,310 L240,330 L262,326" fill="none" stroke="#222" stroke-width="1.12" vector-effect="non-scaling-stroke"/>
<path d="M560,100 L548,170 M610,120 L600,180 M470,95 L480,115 L548,125" fill="none" stroke="#222" stroke-width="0.9" vector-effect="non-scaling-stroke"/>
<circle cx="275" cy="180" r="5" fill="none" stroke="#2a2a2a" stroke-width="0.8" vector-effect="non-scaling-stroke"/>
<circle cx="100" cy="258" r="5" fill="none" stroke="#2a2a2a" stroke-width="0.8" vector-effect="non-scaling-stroke"/>
<circle cx="435" cy="75" r="5" fill="none" stroke="#2a2a2a" stroke-width="0.8" vector-effect="non-scaling-stroke"/>
<path d="M85,385 L100,375 L130,380 L145,395 L130,410 L100,405 Z M100,375 V405 M130,380 V410 M145,395 L165,385" fill="none" stroke="#222" stroke-width="1.12" vector-effect="non-scaling-stroke"/>
<g transform="translate(540 270) rotate(-60)">
<path d="M-12.0,-10.8 H12.0 V8.4 H-12.0 Z M-6.0,-10.8 V8.4 M6.0,-10.8 V8.4" fill="none" stroke="#222" stroke-width="1.12" vector-effect="non-scaling-stroke"/>
<path d="M-5.4,8.4 V50.0 H5.4 V8.4 M-5.4,27.5 H5.4 M-5.4,35.0 H5.4 M-5.4,42.5 H5.4" fill="none" stroke="#222" stroke-width="0.9" vector-effect="non-scaling-stroke"/>
</g>
<text x="575" y="232" font-size="35.0" fill="#111" stroke="#111" stroke-width="0.3" vector-effect="non-scaling-stroke" text-anchor="middle" dominant-baseline="central" font-weight="normal" textLength="17.5" lengthAdjust="spacingAndGlyphs">5</text>
<path d="M575,248 V275" fill="none" stroke="#222" stroke-width="0.78" vector-effect="non-scaling-stroke"/>
<path d="M590,300 L640,330" fill="none" stroke="#222" stroke-width="0.67" vector-effect="non-scaling-stroke" stroke-dasharray="8 3 2 3"/>
<g transform="translate(400 378) rotate(0)">
<path d="M-12.0,-10.8 H12.0 V8.4 H-12.0 Z M-6.0,-10.8 V8.4 M6.0,-10.8 V8.4" fill="none" stroke="#222" stroke-width="1.12" vector-effect="non-scaling-stroke"/>
<path d="M-5.4,8.4 V48.0 H5.4 V8.4 M-5.4,26.4 H5.4 M-5.4,33.6 H5.4 M-5.4,40.8 H5.4" fill="none" stroke="#222" stroke-width="0.9" vector-effect="non-scaling-stroke"/>
</g>
<text x="342" y="407" font-size="35.0" fill="#111" stroke="#111" stroke-width="0.3" vector-effect="non-scaling-stroke" text-anchor="middle" dominant-baseline="central" font-weight="normal" textLength="17.5" lengthAdjust="spacingAndGlyphs">5</text>
<path d="M356,407 H384" fill="none" stroke="#222" stroke-width="0.78" vector-effect="non-scaling-stroke"/>
<path d="M400,430 V520" fill="none" stroke="#222" stroke-width="0.67" vector-effect="non-scaling-stroke" stroke-dasharray="8 3 2 3"/>
<text x="235" y="492" font-size="35.0" fill="#111" stroke="#111" stroke-width="0.3" vector-effect="non-scaling-stroke" text-anchor="middle" dominant-baseline="central" font-weight="normal" textLength="35.0" lengthAdjust="spacingAndGlyphs">19</text>
<path d="M253,492 H285" fill="none" stroke="#222" stroke-width="0.78" vector-effect="non-scaling-stroke"/>
<path d="M368,75 V230" fill="none" stroke="#222" stroke-width="0.67" vector-effect="non-scaling-stroke" stroke-dasharray="8 3 2 3"/>
<path d="M0,62 L40,105 L100,155 M40,105 L60,140 L45,150 M10,95 L25,120 M0,110 L20,105" fill="none" stroke="#222" stroke-width="1.01" vector-effect="non-scaling-stroke"/>
</g>
<g transform="translate(158.00 122.00) scale(0.24307)">
<path d="M20,245 L75,300 L80,280 L100,278 L125,305 L160,290 L255,215 L290,185 L340,180 L400,140 L455,90 L485,45 L470,40 L420,55 L340,65 L325,75 L340,100 L330,125 L250,150 L200,165 L150,200 L120,235 Z" fill="none" stroke="#222" stroke-width="1.12" vector-effect="non-scaling-stroke"/>
<path d="M120,235 L420,55 M128,244 L440,62 M136,252 L455,72 M290,185 L300,142 L330,125 M120,235 L125,305 M150,200 L175,215 M200,165 L215,190" fill="none" stroke="#222" stroke-width="0.9" vector-effect="non-scaling-stroke"/>
<path d="M318,122 v12 h6 v-12 M330,120 v12 h6 v-12" fill="none" stroke="#222" stroke-width="0.78" vector-effect="non-scaling-stroke"/>
<ellipse cx="610" cy="64" rx="21" ry="25" transform="rotate(0 610 64)" fill="none" stroke="#2a2a2a" stroke-width="1.1" vector-effect="non-scaling-stroke"/>
<ellipse cx="610" cy="64" rx="16" ry="20" transform="rotate(0 610 64)" fill="none" stroke="#2a2a2a" stroke-width="0.8" vector-effect="non-scaling-stroke"/>
<path d="M603,88 L609,106 L617,88" fill="none" stroke="#222" stroke-width="1.12" vector-effect="non-scaling-stroke"/>
<text x="668" y="70" font-size="30.0" fill="#111" stroke="#111" stroke-width="0.3" vector-effect="non-scaling-stroke" text-anchor="middle" dominant-baseline="central" font-weight="normal" textLength="30.0" lengthAdjust="spacingAndGlyphs">17</text>
<path d="M636,70 H650" fill="none" stroke="#222" stroke-width="0.78" vector-effect="non-scaling-stroke"/>
<text x="512" y="145" font-size="30.0" fill="#111" stroke="#111" stroke-width="0.3" vector-effect="non-scaling-stroke" text-anchor="middle" dominant-baseline="central" font-weight="normal" textLength="30.0" lengthAdjust="spacingAndGlyphs">33</text>
<path d="M505,165 V215 M495,182 Q520,165 525,185 Q520,200 500,196 M505,200 Q528,200 522,216" fill="none" stroke="#222" stroke-width="1.01" vector-effect="non-scaling-stroke"/>
<g transform="translate(590 152) rotate(60)">
<path d="M-11.0,-9.9 H11.0 V7.7 H-11.0 Z M-5.5,-9.9 V7.7 M5.5,-9.9 V7.7" fill="none" stroke="#222" stroke-width="1.12" vector-effect="non-scaling-stroke"/>
<path d="M-5.0,7.7 V42.0 H5.0 V7.7 M-5.0,23.1 H5.0 M-5.0,29.4 H5.0 M-5.0,35.7 H5.0" fill="none" stroke="#222" stroke-width="0.9" vector-effect="non-scaling-stroke"/>
</g>
<text x="560" y="118" font-size="30.0" fill="#111" stroke="#111" stroke-width="0.3" vector-effect="non-scaling-stroke" text-anchor="middle" dominant-baseline="central" font-weight="normal" textLength="15.0" lengthAdjust="spacingAndGlyphs">5</text>
<path d="M560,132 V160" fill="none" stroke="#222" stroke-width="0.78" vector-effect="non-scaling-stroke"/>
<path d="M362,210 L375,200 L400,205 L405,240 L390,258 L365,250 Z M355,225 L365,228 M355,240 L365,240 M375,200 L378,252 M362,210 L365,250" fill="none" stroke="#222" stroke-width="1.23" vector-effect="non-scaling-stroke"/>
<circle cx="385" cy="222" r="5" fill="none" stroke="#2a2a2a" stroke-width="0.8" vector-effect="non-scaling-stroke"/>
<circle cx="385" cy="240" r="4" fill="none" stroke="#2a2a2a" stroke-width="0.8" vector-effect="non-scaling-stroke"/>
<text x="392" y="295" font-size="30.0" fill="#111" stroke="#111" stroke-width="0.3" vector-effect="non-scaling-stroke" text-anchor="middle" dominant-baseline="central" font-weight="normal" textLength="30.0" lengthAdjust="spacingAndGlyphs">31</text>
<path d="M392,262 V280" fill="none" stroke="#222" stroke-width="0.78" vector-effect="non-scaling-stroke"/>
<path d="M405,215 L470,220 Q520,228 560,248 L600,252 M405,230 L470,235 Q515,243 555,262 L600,266 M460,219 V234" fill="none" stroke="#222" stroke-width="1.01" vector-effect="non-scaling-stroke"/>
<text x="572" y="212" font-size="30.0" fill="#111" stroke="#111" stroke-width="0.3" vector-effect="non-scaling-stroke" text-anchor="middle" dominant-baseline="central" font-weight="normal" textLength="30.0" lengthAdjust="spacingAndGlyphs">29</text>
<path d="M572,225 V250" fill="none" stroke="#222" stroke-width="0.78" vector-effect="non-scaling-stroke"/>
<path d="M430,235 L500,243 Q525,250 530,290 Q535,322 580,328 M430,250 L495,258 Q512,262 516,295 Q522,340 580,343 M430,235 V250 M580,326 V345 M570,327 V344" fill="none" stroke="#222" stroke-width="1.01" vector-effect="non-scaling-stroke"/>
<text x="535" y="378" font-size="30.0" fill="#111" stroke="#111" stroke-width="0.3" vector-effect="non-scaling-stroke" text-anchor="middle" dominant-baseline="central" font-weight="normal" textLength="30.0" lengthAdjust="spacingAndGlyphs">30</text>
<path d="M535,346 V362" fill="none" stroke="#222" stroke-width="0.78" vector-effect="non-scaling-stroke"/>
<text x="620" y="212" font-size="30.0" fill="#111" stroke="#111" stroke-width="0.3" vector-effect="non-scaling-stroke" text-anchor="middle" dominant-baseline="central" font-weight="normal" textLength="30.0" lengthAdjust="spacingAndGlyphs">50</text>
<text x="665" y="205" font-size="30.0" fill="#111" stroke="#111" stroke-width="0.3" vector-effect="non-scaling-stroke" text-anchor="middle" dominant-baseline="central" font-weight="normal" textLength="30.0" lengthAdjust="spacingAndGlyphs">35</text>
<path d="M620,226 V250 M662,220 V236" fill="none" stroke="#222" stroke-width="0.78" vector-effect="non-scaling-stroke"/>
<ellipse cx="622" cy="262" rx="6" ry="10" transform="rotate(0 622 262)" fill="none" stroke="#2a2a2a" stroke-width="1.0" vector-effect="non-scaling-stroke"/>
<path d="M645,240 L665,235 L672,250 L672,270 L652,278 L645,265 Z M645,252 L672,258" fill="none" stroke="#222" stroke-width="1.23" vector-effect="non-scaling-stroke"/>
<ellipse cx="610" cy="340" rx="6" ry="10" transform="rotate(0 610 340)" fill="none" stroke="#2a2a2a" stroke-width="1.0" vector-effect="non-scaling-stroke"/>
<path d="M630,322 L650,318 L657,332 L657,350 L637,358 L630,346 Z M630,334 L657,340" fill="none" stroke="#222" stroke-width="1.23" vector-effect="non-scaling-stroke"/>
<text x="575" y="382" font-size="30.0" fill="#111" stroke="#111" stroke-width="0.3" vector-effect="non-scaling-stroke" text-anchor="middle" dominant-baseline="central" font-weight="normal" textLength="30.0" lengthAdjust="spacingAndGlyphs">50</text>
<text x="625" y="392" font-size="30.0" fill="#111" stroke="#111" stroke-width="0.3" vector-effect="non-scaling-stroke" text-anchor="middle" dominant-baseline="central" font-weight="normal" textLength="30.0" lengthAdjust="spacingAndGlyphs">35</text>
<path d="M608,352 L590,368 M640,360 L630,376" fill="none" stroke="#222" stroke-width="0.78" vector-effect="non-scaling-stroke"/>
<path d="M672,258 L695,265 V350 M657,345 L690,350 V400 L560,473" fill="none" stroke="#222" stroke-width="0.67" vector-effect="non-scaling-stroke" stroke-dasharray="8 3 2 3"/>
<g transform="translate(298 275) rotate(0)">
<path d="M-12.0,-10.8 H12.0 V8.4 H-12.0 Z M-6.0,-10.8 V8.4 M6.0,-10.8 V8.4" fill="none" stroke="#222" stroke-width="1.12" vector-effect="non-scaling-stroke"/>
<path d="M-5.4,8.4 V62.0 H5.4 V8.4 M-5.4,34.1 H5.4 M-5.4,43.4 H5.4 M-5.4,52.7 H5.4" fill="none" stroke="#222" stroke-width="0.9" vector-effect="non-scaling-stroke"/>
</g>
<text x="245" y="308" font-size="30.0" fill="#111" stroke="#111" stroke-width="0.3" vector-effect="non-scaling-stroke" text-anchor="middle" dominant-baseline="central" font-weight="normal" textLength="30.0" lengthAdjust="spacingAndGlyphs">23</text>
<path d="M262,308 H284" fill="none" stroke="#222" stroke-width="0.78" vector-effect="non-scaling-stroke"/>
<path d="M298,345 V380" fill="none" stroke="#222" stroke-width="0.67" vector-effect="non-scaling-stroke" stroke-dasharray="8 3 2 3"/>
<ellipse cx="130" cy="340" rx="14" ry="6" transform="rotate(0 130 340)" fill="none" stroke="#2a2a2a" stroke-width="0.9" vector-effect="non-scaling-stroke"/>
<text x="70" y="348" font-size="30.0" fill="#111" stroke="#111" stroke-width="0.3" vector-effect="non-scaling-stroke" text-anchor="middle" dominant-baseline="central" font-weight="normal" textLength="30.0" lengthAdjust="spacingAndGlyphs">21</text>
<path d="M86,348 H113" fill="none" stroke="#222" stroke-width="0.78" vector-effect="non-scaling-stroke"/>
<path d="M115,375 Q115,360 135,358 L165,350 Q185,350 185,365 Q185,378 165,382 L140,390 Q115,392 115,375 Z" fill="none" stroke="#222" stroke-width="1.23" vector-effect="non-scaling-stroke"/>
<ellipse cx="133" cy="374" rx="9" ry="5" transform="rotate(0 133 374)" fill="none" stroke="#2a2a2a" stroke-width="0.8" vector-effect="non-scaling-stroke"/>
<ellipse cx="166" cy="366" rx="9" ry="5" transform="rotate(0 166 366)" fill="none" stroke="#2a2a2a" stroke-width="0.8" vector-effect="non-scaling-stroke"/>
<path d="M118,385 V420 Q118,405 100,405 L0,398 M132,391 V432 Q128,420 100,420 L0,412 M150,388 V440 M165,383 V445 Q160,470 100,462 L0,455 M150,440 Q145,455 100,448 L0,442" fill="none" stroke="#222" stroke-width="1.01" vector-effect="non-scaling-stroke"/>
<text x="5" y="372" font-size="30.0" fill="#111" stroke="#111" stroke-width="0.3" vector-effect="non-scaling-stroke" text-anchor="middle" dominant-baseline="central" font-weight="normal" textLength="30.0" lengthAdjust="spacingAndGlyphs">22</text>
<path d="M130,325 L240,395" fill="none" stroke="#222" stroke-width="0.67" vector-effect="non-scaling-stroke" stroke-dasharray="8 3 2 3"/>
<path d="M262,390 L300,372 L330,385 L330,400 L295,415 L262,402 Z M275,388 L300,378 L318,386 L295,396 Z M262,390 V402 M295,396 V415" fill="none" stroke="#222" stroke-width="1.12" vector-effect="non-scaling-stroke"/>
</g>
<g transform="translate(158.00 197.00) scale(0.24307)">
<path d="M195,145 L415,20 L465,45 L245,172 Z M195,145 L200,292 L250,320 L245,172 M250,320 L460,182 L465,45 M210,152 L425,30 M225,160 L440,37" fill="none" stroke="#222" stroke-width="1.12" vector-effect="non-scaling-stroke"/>
<clipPath id="h20"><path d="M250,178 L460,55 L456,175 L254,310 Z"/></clipPath>
<g clip-path="url(#h20)">
<path d="M-215,310 L-206,55 M-206,310 L-197,55 M-198,310 L-189,55 M-189,310 L-180,55 M-180,310 L-172,55 M-172,310 L-163,55 M-163,310 L-154,55 M-155,310 L-146,55 M-146,310 L-137,55 M-137,310 L-128,55 M-129,310 L-120,55 M-120,310 L-111,55 M-111,310 L-102,55 M-103,310 L-94,55 M-94,310 L-85,55 M-85,310 L-77,55 M-77,310 L-68,55 M-68,310 L-59,55 M-59,310 L-51,55 M-51,310 L-42,55 M-42,310 L-33,55 M-34,310 L-25,55 M-25,310 L-16,55 M-16,310 L-7,55 M-8,310 L1,55 M1,310 L10,55 M10,310 L19,55 M18,310 L27,55 M27,310 L36,55 M36,310 L44,55 M44,310 L53,55 M53,310 L62,55 M61,310 L70,55 M70,310 L79,55 M79,310 L88,55 M87,310 L96,55 M96,310 L105,55 M105,310 L114,55 M113,310 L122,55 M122,310 L131,55 M131,310 L139,55 M139,310 L148,55 M148,310 L157,55 M156,310 L165,55 M165,310 L174,55 M174,310 L183,55 M182,310 L191,55 M191,310 L200,55 M200,310 L209,55 M208,310 L217,55 M217,310 L226,55 M226,310 L235,55 M234,310 L243,55 M243,310 L252,55 M252,310 L260,55 M260,310 L269,55 M269,310 L278,55 M277,310 L286,55 M286,310 L295,55 M295,310 L304,55 M303,310 L312,55 M312,310 L321,55 M321,310 L330,55 M329,310 L338,55 M338,310 L347,55 M347,310 L355,55 M355,310 L364,55 M364,310 L373,55 M372,310 L381,55 M381,310 L390,55 M390,310 L399,55 M398,310 L407,55 M407,310 L416,55 M416,310 L425,55 M424,310 L433,55 M433,310 L442,55 M442,310 L450,55 M450,310 L459,55 M459,310 L468,55 M468,310 L476,55 M476,310 L485,55 M485,310 L494,55 M493,310 L502,55 M502,310 L511,55 M511,310 L520,55 M519,310 L528,55 M528,310 L537,55 M537,310 L546,55 M545,310 L554,55 M554,310 L563,55 M563,310 L571,55 M571,310 L580,55 M580,310 L589,55 M588,310 L597,55 M597,310 L606,55 M606,310 L615,55 M614,310 L623,55 M623,310 L632,55 M632,310 L641,55 M640,310 L649,55 M649,310 L658,55 M658,310 L666,55 M666,310 L675,55 M675,310 L684,55 M683,310 L692,55 M692,310 L701,55 M701,310 L710,55 M709,310 L718,55 M718,310 L727,55 M727,310 L736,55 M735,310 L744,55 M744,310 L753,55 M753,310 L762,55 M761,310 L770,55 M770,310 L779,55 M779,310 L787,55 M787,310 L796,55 M796,310 L805,55 M804,310 L813,55 M813,310 L822,55 M822,310 L831,55 M830,310 L839,55 M839,310 L848,55 M848,310 L857,55 M856,310 L865,55 M865,310 L874,55 M874,310 L882,55 M882,310 L891,55 M891,310 L900,55 M899,310 L908,55 M908,310 L917,55 M917,310 L926,55 " fill="none" stroke="#333" stroke-width="0.73" vector-effect="non-scaling-stroke"/>
</g>
<path d="M250,178 L460,55 L456,175 L254,310 Z" fill="none" stroke="#222" stroke-width="1.01" vector-effect="non-scaling-stroke"/>
<path d="M252,215 L458,92 M252,250 L458,125 M252,285 L458,155" fill="none" stroke="#222" stroke-width="0.67" vector-effect="non-scaling-stroke"/>
<path d="M205,200 L242,220 M205,240 L242,260 M205,270 L244,292 M215,300 V312 M235,312 V322" fill="none" stroke="#222" stroke-width="0.78" vector-effect="non-scaling-stroke"/>
<text x="137" y="207" font-size="30.0" fill="#111" stroke="#111" stroke-width="0.3" vector-effect="non-scaling-stroke" text-anchor="middle" dominant-baseline="central" font-weight="normal" textLength="30.0" lengthAdjust="spacingAndGlyphs">20</text>
<path d="M155,207 H195" fill="none" stroke="#222" stroke-width="0.78" vector-effect="non-scaling-stroke"/>
<path d="M300,320 L430,262 L470,290 L478,430 L340,478 L310,440 Z M300,320 L335,338 L345,478 M335,338 L445,285 L470,290 M318,345 V440 M305,350 L335,365 M308,385 L338,400 M310,420 L340,435" fill="none" stroke="#222" stroke-width="1.12" vector-effect="non-scaling-stroke"/>
<clipPath id="h25a"><path d="M340,342 L445,292 L468,425 L350,470 Z"/></clipPath>
<g clip-path="url(#h25a)">
<path d="M34,470 L129,292 M34,292 L129,470 M44,470 L139,292 M44,292 L139,470 M55,470 L149,292 M55,292 L149,470 M65,470 L159,292 M65,292 L159,470 M75,470 L170,292 M75,292 L170,470 M85,470 L180,292 M85,292 L180,470 M96,470 L190,292 M96,292 L190,470 M106,470 L201,292 M106,292 L201,470 M116,470 L211,292 M116,292 L211,470 M127,470 L221,292 M127,292 L221,470 M137,470 L231,292 M137,292 L231,470 M147,470 L242,292 M147,292 L242,470 M157,470 L252,292 M157,292 L252,470 M168,470 L262,292 M168,292 L262,470 M178,470 L273,292 M178,292 L273,470 M188,470 L283,292 M188,292 L283,470 M199,470 L293,292 M199,292 L293,470 M209,470 L303,292 M209,292 L303,470 M219,470 L314,292 M219,292 L314,470 M229,470 L324,292 M229,292 L324,470 M240,470 L334,292 M240,292 L334,470 M250,470 L345,292 M250,292 L345,470 M260,470 L355,292 M260,292 L355,470 M271,470 L365,292 M271,292 L365,470 M281,470 L375,292 M281,292 L375,470 M291,470 L386,292 M291,292 L386,470 M301,470 L396,292 M301,292 L396,470 M312,470 L406,292 M312,292 L406,470 M322,470 L417,292 M322,292 L417,470 M332,470 L427,292 M332,292 L427,470 M343,470 L437,292 M343,292 L437,470 M353,470 L447,292 M353,292 L447,470 M363,470 L458,292 M363,292 L458,470 M373,470 L468,292 M373,292 L468,470 M384,470 L478,292 M384,292 L478,470 M394,470 L489,292 M394,292 L489,470 M404,470 L499,292 M404,292 L499,470 M415,470 L509,292 M415,292 L509,470 M425,470 L519,292 M425,292 L519,470 M435,470 L530,292 M435,292 L530,470 M445,470 L540,292 M445,292 L540,470 M456,470 L550,292 M456,292 L550,470 M466,470 L561,292 M466,292 L561,470 M476,470 L571,292 M476,292 L571,470 M487,470 L581,292 M487,292 L581,470 M497,470 L591,292 M497,292 L591,470 M507,470 L602,292 M507,292 L602,470 M517,470 L612,292 M517,292 L612,470 M528,470 L622,292 M528,292 L622,470 M538,470 L633,292 M538,292 L633,470 M548,470 L643,292 M548,292 L643,470 M559,470 L653,292 M559,292 L653,470 M569,470 L663,292 M569,292 L663,470 M579,470 L674,292 M579,292 L674,470 M589,470 L684,292 M589,292 L684,470 M600,470 L694,292 M600,292 L694,470 M610,470 L705,292 M610,292 L705,470 M620,470 L715,292 M620,292 L715,470 M631,470 L725,292 M631,292 L725,470 M641,470 L735,292 M641,292 L735,470 M651,470 L746,292 M651,292 L746,470 M661,470 L756,292 M661,292 L756,470 M672,470 L766,292 M672,292 L766,470 M682,470 L777,292 M682,292 L777,470 M692,470 L787,292 M692,292 L787,470 M703,470 L797,292 M703,292 L797,470 M713,470 L807,292 M713,292 L807,470 M723,470 L818,292 M723,292 L818,470 M733,470 L828,292 M733,292 L828,470 M744,470 L838,292 M744,292 L838,470 M754,470 L849,292 M754,292 L849,470 M764,470 L859,292 M764,292 L859,470 " fill="none" stroke="#444" stroke-width="0.62" vector-effect="non-scaling-stroke"/>
</g>
<path d="M340,342 L445,292 L468,425 L350,470 Z" fill="none" stroke="#222" stroke-width="1.01" vector-effect="non-scaling-stroke"/>
<path d="M375,326 L385,458 M410,310 L422,445" fill="none" stroke="#222" stroke-width="0.9" vector-effect="non-scaling-stroke"/>
<path d="M465,225 L590,172 L615,195 L635,300 L620,330 L500,392 L470,370 Z M465,225 L480,240 L495,388 M480,240 L595,188 L615,195 M595,188 L620,330" fill="none" stroke="#222" stroke-width="1.12" vector-effect="non-scaling-stroke"/>
<clipPath id="h25b"><path d="M484,246 L592,196 L612,318 L498,380 Z"/></clipPath>
<g clip-path="url(#h25b)">
<path d="M172,380 L270,196 M172,196 L270,380 M182,380 L280,196 M182,196 L280,380 M193,380 L290,196 M193,196 L290,380 M203,380 L301,196 M203,196 L301,380 M213,380 L311,196 M213,196 L311,380 M223,380 L321,196 M223,196 L321,380 M234,380 L332,196 M234,196 L332,380 M244,380 L342,196 M244,196 L342,380 M254,380 L352,196 M254,196 L352,380 M265,380 L362,196 M265,196 L362,380 M275,380 L373,196 M275,196 L373,380 M285,380 L383,196 M285,196 L383,380 M295,380 L393,196 M295,196 L393,380 M306,380 L404,196 M306,196 L404,380 M316,380 L414,196 M316,196 L414,380 M326,380 L424,196 M326,196 L424,380 M337,380 L434,196 M337,196 L434,380 M347,380 L445,196 M347,196 L445,380 M357,380 L455,196 M357,196 L455,380 M367,380 L465,196 M367,196 L465,380 M378,380 L476,196 M378,196 L476,380 M388,380 L486,196 M388,196 L486,380 M398,380 L496,196 M398,196 L496,380 M409,380 L506,196 M409,196 L506,380 M419,380 L517,196 M419,196 L517,380 M429,380 L527,196 M429,196 L527,380 M439,380 L537,196 M439,196 L537,380 M450,380 L548,196 M450,196 L548,380 M460,380 L558,196 M460,196 L558,380 M470,380 L568,196 M470,196 L568,380 M481,380 L578,196 M481,196 L578,380 M491,380 L589,196 M491,196 L589,380 M501,380 L599,196 M501,196 L599,380 M511,380 L609,196 M511,196 L609,380 M522,380 L620,196 M522,196 L620,380 M532,380 L630,196 M532,196 L630,380 M542,380 L640,196 M542,196 L640,380 M553,380 L650,196 M553,196 L650,380 M563,380 L661,196 M563,196 L661,380 M573,380 L671,196 M573,196 L671,380 M583,380 L681,196 M583,196 L681,380 M594,380 L692,196 M594,196 L692,380 M604,380 L702,196 M604,196 L702,380 M614,380 L712,196 M614,196 L712,380 M625,380 L722,196 M625,196 L722,380 M635,380 L733,196 M635,196 L733,380 M645,380 L743,196 M645,196 L743,380 M655,380 L753,196 M655,196 L753,380 M666,380 L764,196 M666,196 L764,380 M676,380 L774,196 M676,196 L774,380 M686,380 L784,196 M686,196 L784,380 M697,380 L794,196 M697,196 L794,380 M707,380 L805,196 M707,196 L805,380 M717,380 L815,196 M717,196 L815,380 M727,380 L825,196 M727,196 L825,380 M738,380 L836,196 M738,196 L836,380 M748,380 L846,196 M748,196 L846,380 M758,380 L856,196 M758,196 L856,380 M769,380 L866,196 M769,196 L866,380 M779,380 L877,196 M779,196 L877,380 M789,380 L887,196 M789,196 L887,380 M799,380 L897,196 M799,196 L897,380 M810,380 L908,196 M810,196 L908,380 M820,380 L918,196 M820,196 L918,380 M830,380 L928,196 M830,196 L928,380 M841,380 L938,196 M841,196 L938,380 M851,380 L949,196 M851,196 L949,380 M861,380 L959,196 M861,196 L959,380 M871,380 L969,196 M871,196 L969,380 M882,380 L979,196 M882,196 L979,380 M892,380 L990,196 M892,196 L990,380 M902,380 L1000,196 M902,196 L1000,380 M913,380 L1010,196 M913,196 L1010,380 M923,380 L1021,196 M923,196 L1021,380 " fill="none" stroke="#444" stroke-width="0.62" vector-effect="non-scaling-stroke"/>
</g>
<path d="M484,246 L592,196 L612,318 L498,380 Z" fill="none" stroke="#222" stroke-width="1.01" vector-effect="non-scaling-stroke"/>
<path d="M518,230 L530,362 M555,213 L568,345" fill="none" stroke="#222" stroke-width="0.9" vector-effect="non-scaling-stroke"/>
<text x="578" y="437" font-size="30.0" fill="#111" stroke="#111" stroke-width="0.3" vector-effect="non-scaling-stroke" text-anchor="middle" dominant-baseline="central" font-weight="normal" textLength="30.0" lengthAdjust="spacingAndGlyphs">25</text>
<path d="M465,420 L598,370 V330 M578,378 V420 M465,420 V400" fill="none" stroke="#222" stroke-width="0.78" vector-effect="non-scaling-stroke"/>
<path d="M635,228 L690,222 Q699,230 690,238 L635,245 Q627,237 635,228 Z" fill="none" stroke="#222" stroke-width="1.12" vector-effect="non-scaling-stroke"/>
<text x="640" y="180" font-size="30.0" fill="#111" stroke="#111" stroke-width="0.3" vector-effect="non-scaling-stroke" text-anchor="middle" dominant-baseline="central" font-weight="normal" textLength="30.0" lengthAdjust="spacingAndGlyphs">26</text>
<path d="M640,195 V222" fill="none" stroke="#222" stroke-width="0.78" vector-effect="non-scaling-stroke"/>
<g transform="translate(692 190) rotate(60)">
<path d="M-10.0,-9.0 H10.0 V7.0 H-10.0 Z M-5.0,-9.0 V7.0 M5.0,-9.0 V7.0" fill="none" stroke="#222" stroke-width="1.12" vector-effect="non-scaling-stroke"/>
<path d="M-4.5,7.0 V38.0 H4.5 V7.0 M-4.5,20.9 H4.5 M-4.5,26.6 H4.5 M-4.5,32.3 H4.5" fill="none" stroke="#222" stroke-width="0.9" vector-effect="non-scaling-stroke"/>
</g>
<text x="688" y="148" font-size="30.0" fill="#111" stroke="#111" stroke-width="0.3" vector-effect="non-scaling-stroke" text-anchor="middle" dominant-baseline="central" font-weight="normal" textLength="15.0" lengthAdjust="spacingAndGlyphs">5</text>
<path d="M688,162 V178" fill="none" stroke="#222" stroke-width="0.78" vector-effect="non-scaling-stroke"/>
<path d="M240,408 L298,403 Q306,410 298,418 L240,423 Q233,415 240,408 Z" fill="none" stroke="#222" stroke-width="1.12" vector-effect="non-scaling-stroke"/>
<g transform="translate(222 386) rotate(-108)">
<path d="M-10.0,-9.0 H10.0 V7.0 H-10.0 Z M-5.0,-9.0 V7.0 M5.0,-9.0 V7.0" fill="none" stroke="#222" stroke-width="1.12" vector-effect="non-scaling-stroke"/>
<path d="M-4.5,7.0 V42.0 H4.5 V7.0 M-4.5,23.1 H4.5 M-4.5,29.4 H4.5 M-4.5,35.7 H4.5" fill="none" stroke="#222" stroke-width="0.9" vector-effect="non-scaling-stroke"/>
</g>
<text x="178" y="385" font-size="30.0" fill="#111" stroke="#111" stroke-width="0.3" vector-effect="non-scaling-stroke" text-anchor="middle" dominant-baseline="central" font-weight="normal" textLength="15.0" lengthAdjust="spacingAndGlyphs">5</text>
<path d="M190,385 H208" fill="none" stroke="#222" stroke-width="0.78" vector-effect="non-scaling-stroke"/>
<path d="M0,312 Q30,312 48,324 L100,328 M0,326 Q28,326 42,338 L100,343 M48,324 L42,338 M100,326 V345 M92,327 V344" fill="none" stroke="#222" stroke-width="1.01" vector-effect="non-scaling-stroke"/>
<text x="75" y="385" font-size="30.0" fill="#111" stroke="#111" stroke-width="0.3" vector-effect="non-scaling-stroke" text-anchor="middle" dominant-baseline="central" font-weight="normal" textLength="30.0" lengthAdjust="spacingAndGlyphs">27</text>
<path d="M75,346 V370" fill="none" stroke="#222" stroke-width="0.78" vector-effect="non-scaling-stroke"/>
<ellipse cx="128" cy="332" rx="6" ry="10" transform="rotate(0 128 332)" fill="none" stroke="#2a2a2a" stroke-width="1.0" vector-effect="non-scaling-stroke"/>
<path d="M148,318 L166,314 L173,326 L173,344 L155,350 L148,340 Z M148,330 L173,334" fill="none" stroke="#222" stroke-width="1.23" vector-effect="non-scaling-stroke"/>
<text x="118" y="292" font-size="30.0" fill="#111" stroke="#111" stroke-width="0.3" vector-effect="non-scaling-stroke" text-anchor="middle" dominant-baseline="central" font-weight="normal" textLength="30.0" lengthAdjust="spacingAndGlyphs">50</text>
<text x="152" y="270" font-size="30.0" fill="#111" stroke="#111" stroke-width="0.3" vector-effect="non-scaling-stroke" text-anchor="middle" dominant-baseline="central" font-weight="normal" textLength="30.0" lengthAdjust="spacingAndGlyphs">35</text>
<path d="M120,306 V320 M155,284 V312" fill="none" stroke="#222" stroke-width="0.78" vector-effect="non-scaling-stroke"/>
<path d="M0,410 Q20,428 60,432 L120,436 M0,426 Q18,442 58,446 L120,451 M120,434 V453" fill="none" stroke="#222" stroke-width="1.01" vector-effect="non-scaling-stroke"/>
<ellipse cx="145" cy="443" rx="6" ry="10" transform="rotate(0 145 443)" fill="none" stroke="#2a2a2a" stroke-width="1.0" vector-effect="non-scaling-stroke"/>
<path d="M162,428 L180,424 L187,436 L187,454 L169,460 L162,450 Z" fill="none" stroke="#222" stroke-width="1.23" vector-effect="non-scaling-stroke"/>
<text x="135" y="405" font-size="30.0" fill="#111" stroke="#111" stroke-width="0.3" vector-effect="non-scaling-stroke" text-anchor="middle" dominant-baseline="central" font-weight="normal" textLength="30.0" lengthAdjust="spacingAndGlyphs">50</text>
<path d="M138,418 V432" fill="none" stroke="#222" stroke-width="0.78" vector-effect="non-scaling-stroke"/>
<path d="M176,336 L300,341 M188,446 L240,446" fill="none" stroke="#222" stroke-width="0.67" vector-effect="non-scaling-stroke" stroke-dasharray="8 3 2 3"/>
<path d="M690,50 V120 L450,215" fill="none" stroke="#222" stroke-width="0.67" vector-effect="non-scaling-stroke" stroke-dasharray="8 3 2 3"/>
</g>
<g transform="translate(1.00 182.00) scale(0.22222)">
<ellipse cx="152" cy="365" rx="46" ry="66" transform="rotate(-25 152 365)" fill="none" stroke="#2a2a2a" stroke-width="1.1" vector-effect="non-scaling-stroke"/>
<ellipse cx="152" cy="365" rx="37" ry="56" transform="rotate(-25 152 365)" fill="none" stroke="#2a2a2a" stroke-width="0.9" vector-effect="non-scaling-stroke"/>
<path d="M108,318 L98,338 L112,346 M190,428 L212,420 L206,398 M118,305 L140,298" fill="none" stroke="#222" stroke-width="1.01" vector-effect="non-scaling-stroke"/>
<text x="125" y="212" font-size="32.9" fill="#111" stroke="#111" stroke-width="0.3" vector-effect="non-scaling-stroke" text-anchor="middle" dominant-baseline="central" font-weight="normal" textLength="16.4" lengthAdjust="spacingAndGlyphs">9</text>
<path d="M128,228 V298" fill="none" stroke="#222" stroke-width="0.78" vector-effect="non-scaling-stroke"/>
<g transform="translate(45 378) rotate(-118)">
<path d="M-11.0,-9.9 H11.0 V7.7 H-11.0 Z M-5.5,-9.9 V7.7 M5.5,-9.9 V7.7" fill="none" stroke="#222" stroke-width="1.12" vector-effect="non-scaling-stroke"/>
<path d="M-5.0,7.7 V52.0 H5.0 V7.7 M-5.0,28.6 H5.0 M-5.0,36.4 H5.0 M-5.0,44.2 H5.0" fill="none" stroke="#222" stroke-width="0.9" vector-effect="non-scaling-stroke"/>
</g>
<text x="50" y="312" font-size="32.9" fill="#111" stroke="#111" stroke-width="0.3" vector-effect="non-scaling-stroke" text-anchor="middle" dominant-baseline="central" font-weight="normal" textLength="16.4" lengthAdjust="spacingAndGlyphs">5</text>
<path d="M50,328 V362" fill="none" stroke="#222" stroke-width="0.78" vector-effect="non-scaling-stroke"/>
<path d="M100,350 L160,322" fill="none" stroke="#222" stroke-width="0.67" vector-effect="non-scaling-stroke" stroke-dasharray="8 3 2 3"/>
<ellipse cx="520" cy="165" rx="48" ry="72" transform="rotate(-22 520 165)" fill="none" stroke="#2a2a2a" stroke-width="1.1" vector-effect="non-scaling-stroke"/>
<ellipse cx="520" cy="165" rx="39" ry="60" transform="rotate(-22 520 165)" fill="none" stroke="#2a2a2a" stroke-width="0.9" vector-effect="non-scaling-stroke"/>
<path d="M470,118 L458,132 L470,145 M560,222 L580,215 L576,195 M500,95 L520,92 M548,100 L560,112" fill="none" stroke="#222" stroke-width="1.01" vector-effect="non-scaling-stroke"/>
<text x="487" y="15" font-size="32.9" fill="#111" stroke="#111" stroke-width="0.3" vector-effect="non-scaling-stroke" text-anchor="middle" dominant-baseline="central" font-weight="normal" textLength="16.4" lengthAdjust="spacingAndGlyphs">9</text>
<path d="M488,30 V95" fill="none" stroke="#222" stroke-width="0.78" vector-effect="non-scaling-stroke"/>
<g transform="translate(614 60) rotate(58)">
<path d="M-11.0,-9.9 H11.0 V7.7 H-11.0 Z M-5.5,-9.9 V7.7 M5.5,-9.9 V7.7" fill="none" stroke="#222" stroke-width="1.12" vector-effect="non-scaling-stroke"/>
<path d="M-5.0,7.7 V42.0 H5.0 V7.7 M-5.0,23.1 H5.0 M-5.0,29.4 H5.0 M-5.0,35.7 H5.0" fill="none" stroke="#222" stroke-width="0.9" vector-effect="non-scaling-stroke"/>
</g>
<text x="578" y="18" font-size="32.9" fill="#111" stroke="#111" stroke-width="0.3" vector-effect="non-scaling-stroke" text-anchor="middle" dominant-baseline="central" font-weight="normal" textLength="16.4" lengthAdjust="spacingAndGlyphs">5</text>
<path d="M578,32 V68" fill="none" stroke="#222" stroke-width="0.78" vector-effect="non-scaling-stroke"/>
<path d="M540,100 L572,86 M440,160 L470,150" fill="none" stroke="#222" stroke-width="0.67" vector-effect="non-scaling-stroke" stroke-dasharray="6 3"/>
<text x="268" y="130" font-size="32.9" fill="#111" stroke="#111" stroke-width="0.3" vector-effect="non-scaling-stroke" text-anchor="middle" dominant-baseline="central" font-weight="normal" textLength="16.4" lengthAdjust="spacingAndGlyphs">8</text>
<path d="M270,146 V195" fill="none" stroke="#222" stroke-width="0.78" vector-effect="non-scaling-stroke"/>
<g transform="translate(463 318) rotate(0)">
<path d="M-11.0,-9.9 H11.0 V7.7 H-11.0 Z M-5.5,-9.9 V7.7 M5.5,-9.9 V7.7" fill="none" stroke="#222" stroke-width="1.12" vector-effect="non-scaling-stroke"/>
<path d="M-5.0,7.7 V44.0 H5.0 V7.7 M-5.0,24.2 H5.0 M-5.0,30.8 H5.0 M-5.0,37.4 H5.0" fill="none" stroke="#222" stroke-width="0.9" vector-effect="non-scaling-stroke"/>
</g>
<text x="510" y="325" font-size="32.9" fill="#111" stroke="#111" stroke-width="0.3" vector-effect="non-scaling-stroke" text-anchor="middle" dominant-baseline="central" font-weight="normal" textLength="16.4" lengthAdjust="spacingAndGlyphs">5</text>
<path d="M479,325 H495" fill="none" stroke="#222" stroke-width="0.78" vector-effect="non-scaling-stroke"/>
<path d="M350,338 L463,392" fill="none" stroke="#222" stroke-width="0.67" vector-effect="non-scaling-stroke" stroke-dasharray="8 3 2 3"/>
<g transform="translate(460 410) rotate(0)">
<path d="M-11.0,-9.9 H11.0 V7.7 H-11.0 Z M-5.5,-9.9 V7.7 M5.5,-9.9 V7.7" fill="none" stroke="#222" stroke-width="1.12" vector-effect="non-scaling-stroke"/>
<path d="M-5.0,7.7 V42.0 H5.0 V7.7 M-5.0,23.1 H5.0 M-5.0,29.4 H5.0 M-5.0,35.7 H5.0" fill="none" stroke="#222" stroke-width="0.9" vector-effect="non-scaling-stroke"/>
</g>
<text x="512" y="430" font-size="32.9" fill="#111" stroke="#111" stroke-width="0.3" vector-effect="non-scaling-stroke" text-anchor="middle" dominant-baseline="central" font-weight="normal" textLength="32.9" lengthAdjust="spacingAndGlyphs">15</text>
<path d="M479,430 H494" fill="none" stroke="#222" stroke-width="0.78" vector-effect="non-scaling-stroke"/>
<text x="628" y="185" font-size="32.9" fill="#111" stroke="#111" stroke-width="0.3" vector-effect="non-scaling-stroke" text-anchor="middle" dominant-baseline="central" font-weight="normal" textLength="32.9" lengthAdjust="spacingAndGlyphs">24</text>
<path d="M628,200 V226" fill="none" stroke="#222" stroke-width="0.78" vector-effect="non-scaling-stroke"/>
<path d="M590,250 Q590,230 610,228 L640,238 Q650,245 648,265 L640,300 Q635,312 615,308 L595,295 Q585,285 590,250 Z" fill="none" stroke="#222" stroke-width="1.23" vector-effect="non-scaling-stroke"/>
<path d="M600,245 V292 M608,240 V298 M616,238 V302 M624,240 V304 M632,244 V302 M598,265 H640 M598,280 H640" fill="none" stroke="#222" stroke-width="1.01" vector-effect="non-scaling-stroke"/>
<path d="M650,255 L665,250 M648,275 L665,270" fill="none" stroke="#222" stroke-width="0.9" vector-effect="non-scaling-stroke"/>
<path d="M712,146 V185" fill="none" stroke="#222" stroke-width="0.78" vector-effect="non-scaling-stroke"/>
<path d="M660,220 L720,192 M668,250 L720,226 M660,220 Q650,238 668,250 M675,214 Q667,232 682,243 M690,207 Q682,224 697,236 M660,235 L640,240" fill="none" stroke="#222" stroke-width="1.01" vector-effect="non-scaling-stroke"/>
<g transform="translate(555 428) rotate(-115)">
<path d="M-10.0,-9.0 H10.0 V7.0 H-10.0 Z M-5.0,-9.0 V7.0 M5.0,-9.0 V7.0" fill="none" stroke="#222" stroke-width="1.12" vector-effect="non-scaling-stroke"/>
<path d="M-4.5,7.0 V48.0 H4.5 V7.0 M-4.5,26.4 H4.5 M-4.5,33.6 H4.5 M-4.5,40.8 H4.5" fill="none" stroke="#222" stroke-width="0.9" vector-effect="non-scaling-stroke"/>
</g>
<text x="557" y="378" font-size="32.9" fill="#111" stroke="#111" stroke-width="0.3" vector-effect="non-scaling-stroke" text-anchor="middle" dominant-baseline="central" font-weight="normal" textLength="16.4" lengthAdjust="spacingAndGlyphs">5</text>
<path d="M557,392 V414" fill="none" stroke="#222" stroke-width="0.78" vector-effect="non-scaling-stroke"/>
<text x="625" y="372" font-size="32.9" fill="#111" stroke="#111" stroke-width="0.3" vector-effect="non-scaling-stroke" text-anchor="middle" dominant-baseline="central" font-weight="normal" textLength="32.9" lengthAdjust="spacingAndGlyphs">34</text>
<path d="M625,388 V412" fill="none" stroke="#222" stroke-width="0.78" vector-effect="non-scaling-stroke"/>
<path d="M612,420 L640,414 L646,434 L626,442 Z M626,442 L640,450" fill="none" stroke="#222" stroke-width="1.12" vector-effect="non-scaling-stroke"/>
<path d="M655,408 H720 M655,422 H720 M655,408 Q648,415 655,422" fill="none" stroke="#222" stroke-width="1.01" vector-effect="non-scaling-stroke"/>
</g>
<g transform="translate(1.00 265.00) scale(0.22222)">
<path d="M290,25 L320,10 Q370,-5 400,30 L420,95 L440,100 L440,115 L405,125 L385,105 L385,90 Q370,40 335,35 L320,45 L295,40 Z" fill="none" stroke="#222" stroke-width="1.12" vector-effect="non-scaling-stroke"/>
<path d="M335,12 Q385,5 410,40 L430,98 M350,8 Q398,5 420,45 L440,100 M320,10 V45 M405,125 V108 L420,95 M300,22 l12,4" fill="none" stroke="#222" stroke-width="1.01" vector-effect="non-scaling-stroke"/>
<circle cx="412" cy="112" r="4" fill="none" stroke="#2a2a2a" stroke-width="0.7" vector-effect="non-scaling-stroke"/>
<text x="320" y="93" font-size="32.9" fill="#111" stroke="#111" stroke-width="0.3" vector-effect="non-scaling-stroke" text-anchor="middle" dominant-baseline="central" font-weight="normal" textLength="32.9" lengthAdjust="spacingAndGlyphs">14</text>
<path d="M322,50 V78" fill="none" stroke="#222" stroke-width="0.78" vector-effect="non-scaling-stroke"/>
<path d="M345,60 V130 L430,185" fill="none" stroke="#222" stroke-width="0.67" vector-effect="non-scaling-stroke" stroke-dasharray="8 3 2 3"/>
<text x="520" y="98" font-size="32.9" fill="#111" stroke="#111" stroke-width="0.3" vector-effect="non-scaling-stroke" text-anchor="middle" dominant-baseline="central" font-weight="normal" textLength="32.9" lengthAdjust="spacingAndGlyphs">34</text>
<path d="M540,98 H565" fill="none" stroke="#222" stroke-width="0.78" vector-effect="non-scaling-stroke"/>
<path d="M570,85 L585,80 L590,108 L606,114 L600,123 L575,116 Z" fill="none" stroke="#222" stroke-width="1.12" vector-effect="non-scaling-stroke"/>
<path d="M620,98 L660,100 Q682,105 692,130 L720,165 M620,112 L655,114 Q670,118 680,142 L710,182 M620,98 Q613,105 620,112" fill="none" stroke="#222" stroke-width="1.01" vector-effect="non-scaling-stroke"/>
<path d="M595,170 L615,150 L640,160 L645,185 L620,215 L600,205 Z M600,175 L625,165 M605,192 L630,180 M615,150 L620,215" fill="none" stroke="#222" stroke-width="1.23" vector-effect="non-scaling-stroke"/>
<text x="620" y="258" font-size="32.9" fill="#111" stroke="#111" stroke-width="0.3" vector-effect="non-scaling-stroke" text-anchor="middle" dominant-baseline="central" font-weight="normal" textLength="32.9" lengthAdjust="spacingAndGlyphs">32</text>
<path d="M620,221 V241" fill="none" stroke="#222" stroke-width="0.78" vector-effect="non-scaling-stroke"/>
<path d="M640,160 L665,125" fill="none" stroke="#222" stroke-width="0.67" vector-effect="non-scaling-stroke"/>
<text x="318" y="160" font-size="32.9" fill="#111" stroke="#111" stroke-width="0.3" vector-effect="non-scaling-stroke" text-anchor="middle" dominant-baseline="central" font-weight="normal" textLength="32.9" lengthAdjust="spacingAndGlyphs">12</text>
<path d="M320,176 V215" fill="none" stroke="#222" stroke-width="0.78" vector-effect="non-scaling-stroke"/>
<path d="M50,185 L95,155 L170,180 L175,215 L130,250 L50,215 Z M40,210 L50,195 M40,210 L45,237 L130,277 L185,237 L175,215 M130,250 V277 M45,222 L130,262 L185,225" fill="none" stroke="#222" stroke-width="1.12" vector-effect="non-scaling-stroke"/>
<path d="M62,180 V212 M72,174 V216 M82,168 V220 M92,162 V224 M102,160 V228 M112,163 V232 M122,166 V236 M132,170 V240 M142,174 V236 M152,177 V230 M162,180 V224" fill="none" stroke="#222" stroke-width="0.9" vector-effect="non-scaling-stroke"/>
<text x="95" y="105" font-size="32.9" fill="#111" stroke="#111" stroke-width="0.3" vector-effect="non-scaling-stroke" text-anchor="middle" dominant-baseline="central" font-weight="normal" textLength="32.9" lengthAdjust="spacingAndGlyphs">16</text>
<path d="M97,121 V155" fill="none" stroke="#222" stroke-width="0.78" vector-effect="non-scaling-stroke"/>
<path d="M150,270 L190,305 Q215,315 240,292 M140,278 L182,316 Q215,330 245,303" fill="none" stroke="#222" stroke-width="1.01" vector-effect="non-scaling-stroke"/>
<path d="M238,290 L270,278 L300,285 L298,300 L265,312 L240,305 Z M262,281 V310 M280,280 V306" fill="none" stroke="#222" stroke-width="1.12" vector-effect="non-scaling-stroke"/>
<g transform="translate(200 152) rotate(0)">
<path d="M-11.0,-9.9 H11.0 V7.7 H-11.0 Z M-5.5,-9.9 V7.7 M5.5,-9.9 V7.7" fill="none" stroke="#222" stroke-width="1.12" vector-effect="non-scaling-stroke"/>
<path d="M-5.0,7.7 V45.0 H5.0 V7.7 M-5.0,24.8 H5.0 M-5.0,31.5 H5.0 M-5.0,38.2 H5.0" fill="none" stroke="#222" stroke-width="0.9" vector-effect="non-scaling-stroke"/>
</g>
<text x="238" y="160" font-size="32.9" fill="#111" stroke="#111" stroke-width="0.3" vector-effect="non-scaling-stroke" text-anchor="middle" dominant-baseline="central" font-weight="normal" textLength="16.4" lengthAdjust="spacingAndGlyphs">5</text>
<path d="M216,160 H226" fill="none" stroke="#222" stroke-width="0.78" vector-effect="non-scaling-stroke"/>
<path d="M200,200 V225" fill="none" stroke="#222" stroke-width="0.67" vector-effect="non-scaling-stroke" stroke-dasharray="6 3"/>
<ellipse cx="70" cy="325" rx="20" ry="22" transform="rotate(0 70 325)" fill="none" stroke="#2a2a2a" stroke-width="1.0" vector-effect="non-scaling-stroke"/>
<ellipse cx="80" cy="322" rx="20" ry="22" transform="rotate(0 80 322)" fill="none" stroke="#2a2a2a" stroke-width="1.0" vector-effect="non-scaling-stroke"/>
<ellipse cx="75" cy="323" rx="12" ry="14" transform="rotate(0 75 323)" fill="none" stroke="#2a2a2a" stroke-width="0.8" vector-effect="non-scaling-stroke"/>
<path d="M72,347 V368 M80,345 V366" fill="none" stroke="#222" stroke-width="0.9" vector-effect="non-scaling-stroke"/>
<text x="147" y="345" font-size="32.9" fill="#111" stroke="#111" stroke-width="0.3" vector-effect="non-scaling-stroke" text-anchor="middle" dominant-baseline="central" font-weight="normal" textLength="32.9" lengthAdjust="spacingAndGlyphs">10</text>
<path d="M106,345 H128" fill="none" stroke="#222" stroke-width="0.78" vector-effect="non-scaling-stroke"/>
<path d="M45,405 L100,385 L115,392 L60,415 Z M75,372 V390" fill="none" stroke="#222" stroke-width="1.12" vector-effect="non-scaling-stroke"/>
<circle cx="62" cy="405" r="4" fill="none" stroke="#2a2a2a" stroke-width="0.7" vector-effect="non-scaling-stroke"/>
<circle cx="98" cy="393" r="4" fill="none" stroke="#2a2a2a" stroke-width="0.7" vector-effect="non-scaling-stroke"/>
<text x="150" y="405" font-size="32.9" fill="#111" stroke="#111" stroke-width="0.3" vector-effect="non-scaling-stroke" text-anchor="middle" dominant-baseline="central" font-weight="normal" textLength="32.9" lengthAdjust="spacingAndGlyphs">11</text>
<path d="M113,403 H131" fill="none" stroke="#222" stroke-width="0.78" vector-effect="non-scaling-stroke"/>
<path d="M395,375 L430,350 L460,365 L455,385 L425,400 L400,392 Z M415,362 L420,396 M435,352 L440,392" fill="none" stroke="#222" stroke-width="1.12" vector-effect="non-scaling-stroke"/>
<path d="M460,362 L520,322 Q565,305 548,288 L480,255 M462,372 L525,330 Q580,305 555,280 L490,248" fill="none" stroke="#222" stroke-width="0.9" vector-effect="non-scaling-stroke"/>
<text x="505" y="408" font-size="32.9" fill="#111" stroke="#111" stroke-width="0.3" vector-effect="non-scaling-stroke" text-anchor="middle" dominant-baseline="central" font-weight="normal" textLength="32.9" lengthAdjust="spacingAndGlyphs">13</text>
<path d="M462,392 L488,403" fill="none" stroke="#222" stroke-width="0.78" vector-effect="non-scaling-stroke"/>
<text x="620" y="312" font-size="32.9" fill="#111" stroke="#111" stroke-width="0.3" vector-effect="non-scaling-stroke" text-anchor="middle" dominant-baseline="central" font-weight="normal" textLength="32.9" lengthAdjust="spacingAndGlyphs">37</text>
<path d="M620,328 V362" fill="none" stroke="#222" stroke-width="0.78" vector-effect="non-scaling-stroke"/>
</g>
<g transform="translate(63.00 282.00) scale(0.09718)">
<ellipse cx="185" cy="435" rx="95" ry="150" transform="rotate(-28 185 435)" fill="none" stroke="#2a2a2a" stroke-width="1.1" vector-effect="non-scaling-stroke"/>
<ellipse cx="185" cy="435" rx="77.89999999999999" ry="122.99999999999999" transform="rotate(-28 185 435)" fill="none" stroke="#2a2a2a" stroke-width="0.9" vector-effect="non-scaling-stroke"/>
<ellipse cx="185" cy="435" rx="52.25000000000001" ry="82.5" transform="rotate(-28 185 435)" fill="none" stroke="#2a2a2a" stroke-width="0.9" vector-effect="non-scaling-stroke"/>
<ellipse cx="185" cy="435" rx="23.75" ry="37.5" transform="rotate(-28 185 435)" fill="none" stroke="#2a2a2a" stroke-width="0.9" vector-effect="non-scaling-stroke"/>
<path d="M86,444 l125,-62 M79,419 l125,-62 M76,396 l125,-62 M76,373 l125,-62 M79,352 l125,-62 M86,334 l125,-62 M95,319 l125,-62 M108,307 l125,-62 M122,299 l125,-62 M139,296 l125,-62 M157,296 l125,-62 M175,301 l125,-62 M195,310 l125,-62 M213,323 l125,-62 M231,339 l125,-62 M248,358 l125,-62 M262,379 l125,-62 M275,402 l125,-62 M284,426 l125,-62 M291,451 l125,-62 M294,474 l125,-62 " fill="none" stroke="#222" stroke-width="0.9" vector-effect="non-scaling-stroke"/>
<path d="M211,382 L204,357 L201,334 L201,311 L204,290 L211,272 L220,257 L233,245 L247,237 L264,234 L282,234 L300,239 L320,248 L338,261 L356,277 L373,296 L387,317 L400,340 L409,364 L416,389 L419,412" fill="none" stroke="#222" stroke-width="1.12" vector-effect="non-scaling-stroke"/>
<path d="M120,340 L250,530 M110,470 L262,400 M150,320 L220,550 M100,400 L270,470" fill="none" stroke="#222" stroke-width="0.78" vector-effect="non-scaling-stroke"/>
<ellipse cx="185" cy="435" rx="60" ry="100" transform="rotate(-28 185 435)" fill="none" stroke="#2a2a2a" stroke-width="1.0" vector-effect="non-scaling-stroke"/>
<path d="M312,372 L420,300 M330,250 L405,285 Q440,320 425,390 M395,480 L440,440 L520,420" fill="none" stroke="#222" stroke-width="1.01" vector-effect="non-scaling-stroke"/>
<ellipse cx="555" cy="272" rx="95" ry="172" transform="rotate(-25 555 272)" fill="none" stroke="#2a2a2a" stroke-width="1.1" vector-effect="non-scaling-stroke"/>
<ellipse cx="555" cy="272" rx="80" ry="150" transform="rotate(-25 555 272)" fill="none" stroke="#2a2a2a" stroke-width="0.8" vector-effect="non-scaling-stroke"/>
<path d="M463,298 l-118,52 M453,269 l-118,52 M446,240 l-118,52 M443,212 l-118,52 M443,186 l-118,52 M447,163 l-118,52 M455,143 l-118,52 M466,128 l-118,52 M480,117 l-118,52 M496,112 l-118,52 M515,112 l-118,52 M534,117 l-118,52 M555,127 l-118,52 M575,142 l-118,52 M595,161 l-118,52 " fill="none" stroke="#222" stroke-width="0.9" vector-effect="non-scaling-stroke"/>
<path d="M345,350 L335,321 L328,292 L325,264 L325,238 L329,215 L337,195 L348,180 L362,169 L378,164 L397,164 L416,169 L437,179 L457,194 L477,213" fill="none" stroke="#222" stroke-width="1.12" vector-effect="non-scaling-stroke"/>
<path d="M637,262 l-75,30 M644,283 l-75,30 M648,304 l-75,30 M651,324 l-75,30 M651,343 l-75,30 M649,361 l-75,30 M645,376 l-75,30 M639,389 l-75,30 M631,399 l-75,30 M621,406 l-75,30 M610,411 l-75,30 M597,412 l-75,30 " fill="none" stroke="#222" stroke-width="0.9" vector-effect="non-scaling-stroke"/>
<path d="M440,250 Q505,320 520,420 L505,445" fill="none" stroke="#222" stroke-width="1.12" vector-effect="non-scaling-stroke"/>
</g>
<g transform="translate(1.00 342.00) scale(0.25000)">
<text x="50" y="367" font-size="29.2" fill="#111" stroke="#111" stroke-width="0.3" vector-effect="non-scaling-stroke" text-anchor="middle" dominant-baseline="central" font-weight="normal" textLength="29.2" lengthAdjust="spacingAndGlyphs">36</text>
<path d="M75,365 H120" fill="none" stroke="#222" stroke-width="0.78" vector-effect="non-scaling-stroke"/>
<path d="M35,180 L270,45 L300,52 L292,70 L62,202 L45,205 Z M50,185 L275,57 M62,202 L75,225 L150,255 L210,262 L240,300 L290,315 L345,245" fill="none" stroke="#222" stroke-width="1.12" vector-effect="non-scaling-stroke"/>
<path d="M75,225 L85,290 Q100,360 170,402 L230,422 L262,442 M150,255 Q160,322 230,362 L282,330 M100,240 Q110,330 190,380" fill="none" stroke="#222" stroke-width="1.12" vector-effect="non-scaling-stroke"/>
<path d="M35,180 L150,235 L165,215 L200,200 L215,215 L210,262 M165,215 L175,245 M200,200 L240,150 L262,125 L300,130 L340,160 L345,200 L330,230 L300,240 L270,220 L240,240 L215,215" fill="none" stroke="#222" stroke-width="1.01" vector-effect="non-scaling-stroke"/>
<path d="M240,150 Q262,150 270,175 L270,220 M262,125 Q300,150 300,200 L300,240 M275,160 L295,150 M275,175 L297,165 M275,190 L298,180 M275,205 L298,195 M240,170 L268,180" fill="none" stroke="#222" stroke-width="1.01" vector-effect="non-scaling-stroke"/>
<path d="M70,170 v18 l8,4 v-18 Z" fill="none" stroke="#222" stroke-width="0.9" vector-effect="non-scaling-stroke"/>
<path d="M135,135 v18 l8,4 v-18 Z" fill="none" stroke="#222" stroke-width="0.9" vector-effect="non-scaling-stroke"/>
<path d="M225,82 v18 l8,4 v-18 Z" fill="none" stroke="#222" stroke-width="0.9" vector-effect="non-scaling-stroke"/>
<path d="M262,62 v18 l8,4 v-18 Z" fill="none" stroke="#222" stroke-width="0.9" vector-effect="non-scaling-stroke"/>
<path d="M300,52 L350,70 L425,100 L455,112 M310,62 l6,-8 l6,10 l6,-8 l6,10 l6,-8 l6,10 l6,-8 l6,10 l6,-8 l6,10 l6,-8 l6,10 l6,-8 l6,10 l6,-8 l6,10 l6,-8 l6,10 l6,-8" fill="none" stroke="#222" stroke-width="0.78" vector-effect="non-scaling-stroke"/>
<path d="M300,60 L345,90 L352,170 L345,200 M345,90 L330,110 L340,160" fill="none" stroke="#222" stroke-width="1.01" vector-effect="non-scaling-stroke"/>
<path d="M185,455 L345,245 L700,22 L720,30 M215,487 L375,265 L720,62 M360,252 L720,42 M185,455 Q178,480 205,490 L215,487 M330,262 L360,285" fill="none" stroke="#222" stroke-width="1.23" vector-effect="non-scaling-stroke"/>
<circle cx="208" cy="468" r="5" fill="none" stroke="#2a2a2a" stroke-width="0.8" vector-effect="non-scaling-stroke"/>
<circle cx="352" cy="255" r="5" fill="none" stroke="#2a2a2a" stroke-width="0.8" vector-effect="non-scaling-stroke"/>
<path d="M420,225 l12,18 M426,221 l12,18" fill="none" stroke="#222" stroke-width="0.9" vector-effect="non-scaling-stroke"/>
<path d="M462,200 l12,18 M468,196 l12,18" fill="none" stroke="#222" stroke-width="0.9" vector-effect="non-scaling-stroke"/>
<path d="M504,174 l12,18 M510,170 l12,18" fill="none" stroke="#222" stroke-width="0.9" vector-effect="non-scaling-stroke"/>
<path d="M546,148 l12,18 M552,144 l12,18" fill="none" stroke="#222" stroke-width="0.9" vector-effect="non-scaling-stroke"/>
<path d="M588,123 l12,18 M594,119 l12,18" fill="none" stroke="#222" stroke-width="0.9" vector-effect="non-scaling-stroke"/>
<path d="M630,98 l12,18 M636,94 l12,18" fill="none" stroke="#222" stroke-width="0.9" vector-effect="non-scaling-stroke"/>
<path d="M672,72 l12,18 M678,68 l12,18" fill="none" stroke="#222" stroke-width="0.9" vector-effect="non-scaling-stroke"/>
<path d="M345,330 V480 L400,520 M375,300 V492 M400,300 L410,482 M320,300 L345,330 M300,420 V470 L345,480 M262,442 L300,475 M290,315 L300,420 M330,345 V478 M388,300 V500" fill="none" stroke="#222" stroke-width="1.01" vector-effect="non-scaling-stroke"/>
<path d="M375,265 L400,300 L452,290 L520,270 L560,292 L640,342 L660,382 L682,402 L720,420 M400,300 L420,330 L520,300 L560,292 M420,330 L440,355 L540,318 M440,355 L470,372 M520,270 L500,250 M452,290 L440,275" fill="none" stroke="#222" stroke-width="1.01" vector-effect="non-scaling-stroke"/>
<path d="M480,365 L540,462 M500,372 L640,432 L660,382 M480,365 L492,360 L502,372 L490,378 Z M640,432 L600,487" fill="none" stroke="#222" stroke-width="0.9" vector-effect="non-scaling-stroke"/>
<path d="M400,520 L440,542 L480,522 L560,502 L600,487 L650,470 L692,450 L720,420 M410,482 L540,466 L600,490 M410,482 L420,497 M440,542 L438,500 M560,502 L540,466" fill="none" stroke="#222" stroke-width="1.12" vector-effect="non-scaling-stroke"/>
<path d="M455,500 L480,495 L486,520 L460,528 Z M462,505 l14,-3 l3,12 l-14,3 Z" fill="none" stroke="#222" stroke-width="1.01" vector-effect="non-scaling-stroke"/>
<path d="M600,487 L620,502 L682,472 L692,450 M640,472 L660,482 M655,462 L700,440 L720,445" fill="none" stroke="#222" stroke-width="1.01" vector-effect="non-scaling-stroke"/>
<path d="M640,100 L662,350 M625,128 L645,345 M690,60 L700,120 L720,180 M660,382 L665,350" fill="none" stroke="#222" stroke-width="0.9" vector-effect="non-scaling-stroke"/>
<circle cx="412" cy="486" r="4" fill="none" stroke="#2a2a2a" stroke-width="0.7" vector-effect="non-scaling-stroke"/>
<circle cx="530" cy="480" r="4" fill="none" stroke="#2a2a2a" stroke-width="0.7" vector-effect="non-scaling-stroke"/>
<circle cx="610" cy="492" r="4" fill="none" stroke="#2a2a2a" stroke-width="0.7" vector-effect="non-scaling-stroke"/>
<path d="M665,180 L720,128 M672,202 L720,160 M665,180 L672,202 M690,160 l8,20 M705,145 l8,20" fill="none" stroke="#222" stroke-width="1.01" vector-effect="non-scaling-stroke"/>
<path d="M355,30 L385,12 L410,18 L440,0 M360,42 L392,26 L415,30 L450,8 M355,30 L360,42" fill="none" stroke="#222" stroke-width="1.01" vector-effect="non-scaling-stroke"/>
<path d="M425,95 L445,85 L465,100 L470,118 L450,122 Z" fill="none" stroke="#222" stroke-width="1.01" vector-effect="non-scaling-stroke"/>
</g>
<g transform="translate(163.00 302.00) scale(0.23613)">
<text x="42" y="55" font-size="30.9" fill="#111" stroke="#111" stroke-width="0.3" vector-effect="non-scaling-stroke" text-anchor="middle" dominant-baseline="central" font-weight="normal" textLength="30.9" lengthAdjust="spacingAndGlyphs">28</text>
<path d="M42,25 V42" fill="none" stroke="#222" stroke-width="0.78" vector-effect="non-scaling-stroke"/>
<text x="165" y="68" font-size="30.9" fill="#111" stroke="#111" stroke-width="0.3" vector-effect="non-scaling-stroke" text-anchor="middle" dominant-baseline="central" font-weight="normal" textLength="30.9" lengthAdjust="spacingAndGlyphs">35</text>
<path d="M162,32 V54" fill="none" stroke="#222" stroke-width="0.78" vector-effect="non-scaling-stroke"/>
<text x="235" y="55" font-size="30.9" fill="#111" stroke="#111" stroke-width="0.3" vector-effect="non-scaling-stroke" text-anchor="middle" dominant-baseline="central" font-weight="normal" textLength="30.9" lengthAdjust="spacingAndGlyphs">26</text>
<path d="M235,10 V42" fill="none" stroke="#222" stroke-width="0.78" vector-effect="non-scaling-stroke"/>
<path d="M0,210 L60,185 L75,200 L70,230 L0,335 M0,225 L55,200 L60,225 L0,315" fill="none" stroke="#222" stroke-width="1.01" vector-effect="non-scaling-stroke"/>
<path d="M245,180 L440,62 L500,90 L515,120 L325,235 L270,215 Z M275,185 L440,88 L480,105 L490,125 L325,212 L290,200 Z" fill="none" stroke="#222" stroke-width="1.12" vector-effect="non-scaling-stroke"/>
<path d="M260,184 L440,75 L490,97 L502,122 L325,224 L280,208 Z" fill="none" stroke="#666" stroke-width="1.23" vector-effect="non-scaling-stroke" stroke-dasharray="0.1 4"/>
<path d="M495,160 L665,50 L705,70 L715,105 L545,218 L510,195 Z M520,165 L660,75 L690,88 L695,105 L548,195 L528,185 Z" fill="none" stroke="#222" stroke-width="1.12" vector-effect="non-scaling-stroke"/>
<path d="M508,163 L662,62 L698,79 L705,105 L546,207 L519,190 Z" fill="none" stroke="#666" stroke-width="1.23" vector-effect="non-scaling-stroke" stroke-dasharray="0.1 4"/>
<text x="545" y="45" font-size="30.9" fill="#111" stroke="#111" stroke-width="0.3" vector-effect="non-scaling-stroke" text-anchor="middle" dominant-baseline="central" font-weight="normal" textLength="30.9" lengthAdjust="spacingAndGlyphs">39</text>
<path d="M495,75 H590 M545,60 V75 M495,75 V95 M590,75 V92" fill="none" stroke="#222" stroke-width="0.78" vector-effect="non-scaling-stroke"/>
<path d="M222,255 Q225,235 250,232 L268,238 L262,250 L245,248 Q235,252 235,268 Z" fill="none" stroke="#222" stroke-width="1.23" vector-effect="non-scaling-stroke"/>
<text x="168" y="260" font-size="30.9" fill="#111" stroke="#111" stroke-width="0.3" vector-effect="non-scaling-stroke" text-anchor="middle" dominant-baseline="central" font-weight="normal" textLength="30.9" lengthAdjust="spacingAndGlyphs">44</text>
<path d="M186,260 H220" fill="none" stroke="#222" stroke-width="0.78" vector-effect="non-scaling-stroke"/>
<text x="165" y="318" font-size="30.9" fill="#111" stroke="#111" stroke-width="0.3" vector-effect="non-scaling-stroke" text-anchor="middle" dominant-baseline="central" font-weight="normal" textLength="30.9" lengthAdjust="spacingAndGlyphs">38</text>
<path d="M167,333 V372" fill="none" stroke="#222" stroke-width="0.78" vector-effect="non-scaling-stroke"/>
<path d="M268,298 L465,188 L535,238 L535,257 L345,364 L270,320 Z M290,300 L462,205 L512,240 L345,337 Z M300,302 L462,215 L498,240 L345,325 Z M345,337 V364 M268,298 V320" fill="none" stroke="#222" stroke-width="1.12" vector-effect="non-scaling-stroke"/>
<clipPath id="h38a"><path d="M322,330 L500,232 L510,240 L345,337 Z"/></clipPath>
<g clip-path="url(#h38a)">
<path d="M29,337 L48,232 M36,337 L54,232 M43,337 L61,232 M49,337 L68,232 M56,337 L75,232 M63,337 L81,232 M70,337 L88,232 M76,337 L95,232 M83,337 L102,232 M90,337 L108,232 M97,337 L115,232 M104,337 L122,232 M110,337 L129,232 M117,337 L136,232 M124,337 L142,232 M131,337 L149,232 M137,337 L156,232 M144,337 L163,232 M151,337 L169,232 M158,337 L176,232 M165,337 L183,232 M171,337 L190,232 M178,337 L197,232 M185,337 L203,232 M192,337 L210,232 M198,337 L217,232 M205,337 L224,232 M212,337 L230,232 M219,337 L237,232 M226,337 L244,232 M232,337 L251,232 M239,337 L258,232 M246,337 L264,232 M253,337 L271,232 M259,337 L278,232 M266,337 L285,232 M273,337 L291,232 M280,337 L298,232 M286,337 L305,232 M293,337 L312,232 M300,337 L319,232 M307,337 L325,232 M314,337 L332,232 M320,337 L339,232 M327,337 L346,232 M334,337 L352,232 M341,337 L359,232 M347,337 L366,232 M354,337 L373,232 M361,337 L380,232 M368,337 L386,232 M375,337 L393,232 M381,337 L400,232 M388,337 L407,232 M395,337 L413,232 M402,337 L420,232 M408,337 L427,232 M415,337 L434,232 M422,337 L441,232 M429,337 L447,232 M436,337 L454,232 M442,337 L461,232 M449,337 L468,232 M456,337 L474,232 M463,337 L481,232 M469,337 L488,232 M476,337 L495,232 M483,337 L502,232 M490,337 L508,232 M497,337 L515,232 M503,337 L522,232 M510,337 L529,232 M517,337 L535,232 M524,337 L542,232 M530,337 L549,232 M537,337 L556,232 M544,337 L562,232 M551,337 L569,232 M558,337 L576,232 M564,337 L583,232 M571,337 L590,232 M578,337 L596,232 M585,337 L603,232 M591,337 L610,232 M598,337 L617,232 M605,337 L623,232 M612,337 L630,232 M619,337 L637,232 M625,337 L644,232 M632,337 L651,232 M639,337 L657,232 M646,337 L664,232 M652,337 L671,232 M659,337 L678,232 M666,337 L684,232 M673,337 L691,232 M679,337 L698,232 M686,337 L705,232 M693,337 L712,232 M700,337 L718,232 M707,337 L725,232 M713,337 L732,232 M720,337 L739,232 M727,337 L745,232 M734,337 L752,232 M740,337 L759,232 M747,337 L766,232 M754,337 L773,232 M761,337 L779,232 M768,337 L786,232 M774,337 L793,232 M781,337 L800,232 M788,337 L806,232 M795,337 L813,232 M801,337 L820,232 " fill="none" stroke="#333" stroke-width="0.67" vector-effect="non-scaling-stroke"/>
</g>
<path d="M322,330 L500,232 L510,240 L345,337 Z" fill="none" stroke="#222" stroke-width="1.01" vector-effect="non-scaling-stroke"/>
<path d="M445,300 V345 M455,296 V340" fill="none" stroke="#222" stroke-width="1.01" vector-effect="non-scaling-stroke"/>
<path d="M535,257 L560,300 L600,372 L430,466 M380,405 L545,312 L580,342 L420,436 Z M395,410 L545,325 L566,345 L420,425 Z M535,238 L548,232 L560,300" fill="none" stroke="#222" stroke-width="1.12" vector-effect="non-scaling-stroke"/>
<clipPath id="h38b"><path d="M400,420 L555,335 L566,345 L420,430 Z"/></clipPath>
<g clip-path="url(#h38b)">
<path d="M139,430 L156,335 M146,430 L163,335 M153,430 L169,335 M159,430 L176,335 M166,430 L183,335 M173,430 L190,335 M180,430 L196,335 M186,430 L203,335 M193,430 L210,335 M200,430 L217,335 M207,430 L224,335 M214,430 L230,335 M220,430 L237,335 M227,430 L244,335 M234,430 L251,335 M241,430 L257,335 M247,430 L264,335 M254,430 L271,335 M261,430 L278,335 M268,430 L284,335 M275,430 L291,335 M281,430 L298,335 M288,430 L305,335 M295,430 L312,335 M302,430 L318,335 M308,430 L325,335 M315,430 L332,335 M322,430 L339,335 M329,430 L345,335 M336,430 L352,335 M342,430 L359,335 M349,430 L366,335 M356,430 L373,335 M363,430 L379,335 M369,430 L386,335 M376,430 L393,335 M383,430 L400,335 M390,430 L406,335 M396,430 L413,335 M403,430 L420,335 M410,430 L427,335 M417,430 L434,335 M424,430 L440,335 M430,430 L447,335 M437,430 L454,335 M444,430 L461,335 M451,430 L467,335 M457,430 L474,335 M464,430 L481,335 M471,430 L488,335 M478,430 L495,335 M485,430 L501,335 M491,430 L508,335 M498,430 L515,335 M505,430 L522,335 M512,430 L528,335 M518,430 L535,335 M525,430 L542,335 M532,430 L549,335 M539,430 L556,335 M546,430 L562,335 M552,430 L569,335 M559,430 L576,335 M566,430 L583,335 M573,430 L589,335 M579,430 L596,335 M586,430 L603,335 M593,430 L610,335 M600,430 L617,335 M607,430 L623,335 M613,430 L630,335 M620,430 L637,335 M627,430 L644,335 M634,430 L650,335 M640,430 L657,335 M647,430 L664,335 M654,430 L671,335 M661,430 L678,335 M668,430 L684,335 M674,430 L691,335 M681,430 L698,335 M688,430 L705,335 M695,430 L711,335 M701,430 L718,335 M708,430 L725,335 M715,430 L732,335 M722,430 L738,335 M729,430 L745,335 M735,430 L752,335 M742,430 L759,335 M749,430 L766,335 M756,430 L772,335 M762,430 L779,335 M769,430 L786,335 M776,430 L793,335 M783,430 L799,335 M789,430 L806,335 M796,430 L813,335 M803,430 L820,335 M810,430 L827,335 M817,430 L833,335 M823,430 L840,335 " fill="none" stroke="#333" stroke-width="0.67" vector-effect="non-scaling-stroke"/>
</g>
<path d="M400,420 L555,335 L566,345 L420,430 Z" fill="none" stroke="#222" stroke-width="1.01" vector-effect="non-scaling-stroke"/>
<path d="M575,375 L610,380 L625,395 L600,410 M490,420 V466 M500,415 V466" fill="none" stroke="#222" stroke-width="1.01" vector-effect="non-scaling-stroke"/>
<path d="M578,265 L640,200 L665,210 L700,250 L712,300 L690,330 L640,350 L590,320 Z M580,265 Q600,270 630,290 L640,347 M590,280 L622,296 L630,336 L597,316 Z M630,290 L690,262 L700,250 M640,200 L650,235 L690,262 L712,300" fill="none" stroke="#222" stroke-width="1.23" vector-effect="non-scaling-stroke"/>
<path d="M605,228 L625,240 L650,235 M612,215 L622,225 M660,245 L668,330 M675,250 L684,325 M645,350 V362 M628,345 V356" fill="none" stroke="#222" stroke-width="1.01" vector-effect="non-scaling-stroke"/>
<text x="672" y="408" font-size="30.9" fill="#111" stroke="#111" stroke-width="0.3" vector-effect="non-scaling-stroke" text-anchor="middle" dominant-baseline="central" font-weight="normal" textLength="30.9" lengthAdjust="spacingAndGlyphs">40</text>
<path d="M672,352 V392" fill="none" stroke="#222" stroke-width="0.78" vector-effect="non-scaling-stroke"/>
<path d="M560,215 L535,290 M285,235 V300" fill="none" stroke="#222" stroke-width="0.67" vector-effect="non-scaling-stroke" stroke-dasharray="8 3 2 3"/>
</g>
<g transform="translate(168.00 392.00) scale(0.22915)">
<circle cx="335" cy="45" r="6" fill="none" stroke="#2a2a2a" stroke-width="0.8" vector-effect="non-scaling-stroke"/>
<circle cx="352" cy="178" r="6" fill="none" stroke="#2a2a2a" stroke-width="0.8" vector-effect="non-scaling-stroke"/>
<circle cx="345" cy="232" r="5" fill="none" stroke="#2a2a2a" stroke-width="0.8" vector-effect="non-scaling-stroke"/>
<path d="M380,95 L590,0 M390,120 L600,20 M400,140 L600,45 M395,170 L590,70 M385,108 L595,10 M398,155 L595,58 M590,70 L600,45 L610,20 L600,0" fill="none" stroke="#222" stroke-width="1.01" vector-effect="non-scaling-stroke"/>
<path d="M480,40 L490,130 M488,38 L498,128 M478,60 L500,55 M482,100 L504,95" fill="none" stroke="#222" stroke-width="0.9" vector-effect="non-scaling-stroke"/>
<path d="M345,235 L400,205 L430,225 L435,265 L380,295 L350,275 Z M362,245 L400,225 L418,238 L420,262 L385,280 L365,268 Z M400,205 L395,195 M430,225 L420,210" fill="none" stroke="#222" stroke-width="1.23" vector-effect="non-scaling-stroke"/>
<path d="M410,225 L590,120 M418,232 L592,130 M420,210 L580,118" fill="none" stroke="#222" stroke-width="0.9" vector-effect="non-scaling-stroke"/>
<path d="M575,120 L630,90 L655,100 L650,140 L600,170 L580,150 Z M590,128 L628,108 L640,115 L638,138 L605,155 L592,145 Z M600,45 L620,60 L655,100 M590,70 L580,118" fill="none" stroke="#222" stroke-width="1.23" vector-effect="non-scaling-stroke"/>
<circle cx="570" cy="128" r="4" fill="none" stroke="#2a2a2a" stroke-width="0.7" vector-effect="non-scaling-stroke"/>
<circle cx="540" cy="145" r="4" fill="none" stroke="#2a2a2a" stroke-width="0.7" vector-effect="non-scaling-stroke"/>
<circle cx="470" cy="182" r="4" fill="none" stroke="#2a2a2a" stroke-width="0.7" vector-effect="non-scaling-stroke"/>
<text x="62" y="78" font-size="31.9" fill="#111" stroke="#111" stroke-width="0.3" vector-effect="non-scaling-stroke" text-anchor="middle" dominant-baseline="central" font-weight="normal" textLength="31.9" lengthAdjust="spacingAndGlyphs">41</text>
<path d="M65,93 V128" fill="none" stroke="#222" stroke-width="0.78" vector-effect="non-scaling-stroke"/>
<path d="M52,135 Q50,125 62,125 L80,128 L82,150 L62,155 Q52,150 52,135 Z M82,138 L110,140 L118,150 L112,180 L105,240 L95,255 M82,146 L105,148 L110,155 L98,240" fill="none" stroke="#222" stroke-width="1.23" vector-effect="non-scaling-stroke"/>
<path d="M90,255 L110,250 L135,262 L140,280 L120,285 L95,272 Z M110,250 L115,280" fill="none" stroke="#222" stroke-width="1.23" vector-effect="non-scaling-stroke"/>
<path d="M80,130 L330,20" fill="none" stroke="#222" stroke-width="0.67" vector-effect="non-scaling-stroke" stroke-dasharray="8 3 2 3"/>
<text x="202" y="328" font-size="31.9" fill="#111" stroke="#111" stroke-width="0.3" vector-effect="non-scaling-stroke" text-anchor="middle" dominant-baseline="central" font-weight="normal" textLength="31.9" lengthAdjust="spacingAndGlyphs">43</text>
<path d="M202,297 V312" fill="none" stroke="#222" stroke-width="0.78" vector-effect="non-scaling-stroke"/>
<path d="M168,275 Q170,260 190,258 L215,262 L225,270 L215,290 L190,300 Q170,295 168,275 Z" fill="none" stroke="#222" stroke-width="1.23" vector-effect="non-scaling-stroke"/>
<circle cx="185" cy="278" r="8" fill="none" stroke="#2a2a2a" stroke-width="0.8" vector-effect="non-scaling-stroke"/>
<path d="M225,270 L250,256" fill="none" stroke="#222" stroke-width="0.67" vector-effect="non-scaling-stroke"/>
<text x="235" y="385" font-size="31.9" fill="#111" stroke="#111" stroke-width="0.3" vector-effect="non-scaling-stroke" text-anchor="middle" dominant-baseline="central" font-weight="normal" textLength="31.9" lengthAdjust="spacingAndGlyphs">42</text>
<path d="M185,355 H210 V410 H165 M210,385 H220" fill="none" stroke="#222" stroke-width="0.78" vector-effect="non-scaling-stroke"/>
<path d="M100,340 Q100,330 112,330 L165,345 Q178,350 172,362 L160,365 L110,352 Q100,350 100,340 Z" fill="none" stroke="#222" stroke-width="1.23" vector-effect="non-scaling-stroke"/>
<circle cx="112" cy="342" r="4" fill="none" stroke="#2a2a2a" stroke-width="0.7" vector-effect="non-scaling-stroke"/>
<circle cx="162" cy="355" r="4" fill="none" stroke="#2a2a2a" stroke-width="0.7" vector-effect="non-scaling-stroke"/>
<path d="M90,385 L120,378 L150,395 L150,415 L125,425 L110,405 L90,400 Z M120,378 L125,425 M110,405 L150,395" fill="none" stroke="#222" stroke-width="1.23" vector-effect="non-scaling-stroke"/>
<path d="M150,235 L145,330 L135,345 M150,235 L215,215" fill="none" stroke="#222" stroke-width="0.67" vector-effect="non-scaling-stroke" stroke-dasharray="8 3 2 3"/>
<text x="345" y="405" font-size="31.9" fill="#111" stroke="#111" stroke-width="0.3" vector-effect="non-scaling-stroke" text-anchor="middle" dominant-baseline="central" font-weight="normal" textLength="31.9" lengthAdjust="spacingAndGlyphs">49</text>
<path d="M345,376 V390" fill="none" stroke="#222" stroke-width="0.78" vector-effect="non-scaling-stroke"/>
<circle cx="318" cy="365" r="9" fill="none" stroke="#2a2a2a" stroke-width="1.1" vector-effect="non-scaling-stroke"/>
<path d="M325,358 L400,322 M330,370 L405,332 M340,350 l5,12 M352,345 l5,12 M364,339 l5,12 M376,333 l5,12 M388,327 l5,12" fill="none" stroke="#222" stroke-width="0.9" vector-effect="non-scaling-stroke"/>
<text x="530" y="345" font-size="31.9" fill="#111" stroke="#111" stroke-width="0.3" vector-effect="non-scaling-stroke" text-anchor="middle" dominant-baseline="central" font-weight="normal" textLength="31.9" lengthAdjust="spacingAndGlyphs">47</text>
<path d="M482,340 H512" fill="none" stroke="#222" stroke-width="0.78" vector-effect="non-scaling-stroke"/>
<path d="M405,330 L440,295 L470,290 L490,320 L470,345 L460,370 L425,365 L405,350 Z M440,295 L450,330 L425,365 M470,290 L460,320 L490,320 M450,330 L470,345 M415,335 L445,340" fill="none" stroke="#222" stroke-width="1.23" vector-effect="non-scaling-stroke"/>
<text x="505" y="265" font-size="31.9" fill="#111" stroke="#111" stroke-width="0.3" vector-effect="non-scaling-stroke" text-anchor="middle" dominant-baseline="central" font-weight="normal" textLength="31.9" lengthAdjust="spacingAndGlyphs">51</text>
<path d="M523,265 H545" fill="none" stroke="#222" stroke-width="0.78" vector-effect="non-scaling-stroke"/>
<path d="M548,262 L565,252 L578,262 L575,285 L560,295 L548,280 Z M560,270 L565,290" fill="none" stroke="#222" stroke-width="1.23" vector-effect="non-scaling-stroke"/>
<text x="665" y="243" font-size="31.9" fill="#111" stroke="#111" stroke-width="0.3" vector-effect="non-scaling-stroke" text-anchor="middle" dominant-baseline="central" font-weight="normal" textLength="31.9" lengthAdjust="spacingAndGlyphs">53</text>
<path d="M618,243 H645" fill="none" stroke="#222" stroke-width="0.78" vector-effect="non-scaling-stroke"/>
<ellipse cx="597" cy="242" rx="14" ry="12" transform="rotate(0 597 242)" fill="none" stroke="#2a2a2a" stroke-width="1.1" vector-effect="non-scaling-stroke"/>
<ellipse cx="597" cy="242" rx="7" ry="6" transform="rotate(0 597 242)" fill="none" stroke="#2a2a2a" stroke-width="0.8" vector-effect="non-scaling-stroke"/>
<text x="668" y="313" font-size="31.9" fill="#111" stroke="#111" stroke-width="0.3" vector-effect="non-scaling-stroke" text-anchor="middle" dominant-baseline="central" font-weight="normal" textLength="31.9" lengthAdjust="spacingAndGlyphs">52</text>
<path d="M642,315 H652" fill="none" stroke="#222" stroke-width="0.78" vector-effect="non-scaling-stroke"/>
<g transform="translate(630 337) rotate(132)">
<path d="M-10.0,-9.0 H10.0 V7.0 H-10.0 Z M-5.0,-9.0 V7.0 M5.0,-9.0 V7.0" fill="none" stroke="#222" stroke-width="1.12" vector-effect="non-scaling-stroke"/>
<path d="M-4.5,7.0 V55.0 H4.5 V7.0 M-4.5,30.3 H4.5 M-4.5,38.5 H4.5 M-4.5,46.8 H4.5" fill="none" stroke="#222" stroke-width="0.9" vector-effect="non-scaling-stroke"/>
</g>
<path d="M490,135 L520,215 L545,250 M578,262 L600,256" fill="none" stroke="#222" stroke-width="0.67" vector-effect="non-scaling-stroke"/>
</g>
<g transform="translate(-2.00 -3.00) scale(0.23613)">
<text x="183" y="255" font-size="30.9" fill="#111" stroke="#111" stroke-width="0.3" vector-effect="non-scaling-stroke" text-anchor="middle" dominant-baseline="central" font-weight="normal" textLength="15.5" lengthAdjust="spacingAndGlyphs">5</text>
<path d="M198,257 H222" fill="none" stroke="#222" stroke-width="0.78" vector-effect="non-scaling-stroke"/>
<g transform="translate(237 235) rotate(0)">
<path d="M-11.0,-9.9 H11.0 V7.7 H-11.0 Z M-5.5,-9.9 V7.7 M5.5,-9.9 V7.7" fill="none" stroke="#222" stroke-width="1.12" vector-effect="non-scaling-stroke"/>
<path d="M-5.0,7.7 V48.0 H5.0 V7.7 M-5.0,26.4 H5.0 M-5.0,33.6 H5.0 M-5.0,40.8 H5.0" fill="none" stroke="#222" stroke-width="0.9" vector-effect="non-scaling-stroke"/>
</g>
<path d="M237,290 V325" fill="none" stroke="#222" stroke-width="0.67" vector-effect="non-scaling-stroke" stroke-dasharray="6 3"/>
<text x="165" y="342" font-size="30.9" fill="#111" stroke="#111" stroke-width="0.3" vector-effect="non-scaling-stroke" text-anchor="middle" dominant-baseline="central" font-weight="normal" textLength="15.5" lengthAdjust="spacingAndGlyphs">2</text>
<path d="M180,343 H200" fill="none" stroke="#222" stroke-width="0.78" vector-effect="non-scaling-stroke"/>
<path d="M205,330 L240,322 L248,340 L248,358 L215,362 L205,350 Z M205,330 L215,345 L248,340 M215,345 V362" fill="none" stroke="#222" stroke-width="1.12" vector-effect="non-scaling-stroke"/>
<path d="M240,362 L245,375 L300,368" fill="none" stroke="#222" stroke-width="0.67" vector-effect="non-scaling-stroke" stroke-dasharray="8 3 2 3"/>
</g>
<g transform="translate(33.00 207.00) scale(0.12500)">
<path d="M40,260 L60,220 L120,175 L200,145 L240,150 L290,190 L340,260 L385,350 L400,385 L330,432 L290,425 L300,400 L290,330 L260,260 L220,210 L190,200 L130,215 L85,250 L65,285 L75,292 L65,302 L35,285 Z" fill="none" stroke="#222" stroke-width="1.12" vector-effect="non-scaling-stroke"/>
<path d="M50,268 L70,232 L125,190 L200,160 L235,165 L280,205 L325,270 L370,355 L385,392 M290,425 L300,432 M85,250 L100,262 L140,250 M140,250 L150,262 L175,255 L190,270" fill="none" stroke="#222" stroke-width="0.9" vector-effect="non-scaling-stroke"/>
<path d="M245,128 L300,90 L350,95 L400,140 L440,200 L470,260 L492,312 L412,338 L400,290 L370,220 L330,172 L290,165 L262,175 M245,128 L240,150 M255,135 L305,102 L345,107 L390,150 L430,208 L460,268 L480,315" fill="none" stroke="#222" stroke-width="1.12" vector-effect="non-scaling-stroke"/>
<path d="M320,86 L400,35 L450,40 L500,80 L550,150 L590,230 L602,272 L492,312 M300,90 L385,40 M412,338 L400,385 M500,80 L520,70 M590,230 L600,225" fill="none" stroke="#222" stroke-width="1.12" vector-effect="non-scaling-stroke"/>
<path d="M400,385 L590,287 M405,396 L595,298 M540,310 l5,12 M552,304 l5,12 M564,298 l5,12 M576,292 l5,12 M350,380 l12,10 M365,372 l12,10" fill="none" stroke="#222" stroke-width="0.9" vector-effect="non-scaling-stroke"/>
</g>
<g transform="translate(93.00 297.00) scale(0.25000)">
<path d="M115,250 L385,95 L420,125 L425,150 L320,380 L295,375 L395,160 L385,130 L140,272 L115,265 Z M115,250 L120,240 L385,86 L395,92 M295,375 L298,385 L322,388" fill="none" stroke="#222" stroke-width="1.12" vector-effect="non-scaling-stroke"/>
<path d="M125,260 L385,113 L408,135 L410,152 L308,374" fill="none" stroke="#666" stroke-width="1.23" vector-effect="non-scaling-stroke" stroke-dasharray="0.1 4"/>
</g>
<g transform="translate(1.00 342.00) scale(0.25000)">
<path d="M352,238 L705,15 M368,258 L720,52 M400,300 L640,150 M420,330 L650,190 M440,355 L560,292 M452,290 L640,180" fill="none" stroke="#222" stroke-width="0.9" vector-effect="non-scaling-stroke"/>
<path d="M430,262 L475,292 M480,232 L525,262 M530,202 L575,232 M580,172 L625,202 M625,145 L640,160" fill="none" stroke="#222" stroke-width="0.9" vector-effect="non-scaling-stroke"/>
<path d="M85,205 L95,285 Q110,345 178,390 L235,410 M62,202 L72,228 M45,205 L60,225 L75,225 M110,238 L118,300 Q135,350 200,385" fill="none" stroke="#222" stroke-width="0.9" vector-effect="non-scaling-stroke"/>
<path d="M60,190 L70,175 L85,185 M125,155 L135,140 L150,150 M215,100 L225,85 L240,95 M100,205 L130,190 L160,200 L165,215 M150,235 L155,255" fill="none" stroke="#222" stroke-width="0.9" vector-effect="non-scaling-stroke"/>
<path d="M215,215 L240,200 L268,205 M240,240 L255,262 L290,275 L300,240 M255,262 L240,300 M175,245 L205,255 L210,262 M290,275 L290,315" fill="none" stroke="#222" stroke-width="0.9" vector-effect="non-scaling-stroke"/>
<path d="M300,420 L345,430 M300,440 L345,452 M300,460 L345,472 M345,380 L375,372 M345,420 L375,412 M345,455 L375,447 M400,440 L410,440 M398,400 L410,400" fill="none" stroke="#222" stroke-width="0.78" vector-effect="non-scaling-stroke"/>
<path d="M520,300 L600,350 L640,342 M540,318 L600,370 L660,382 M470,372 L480,365 M560,380 L600,440 M580,365 L640,432 M420,497 L440,510 L480,500 L486,520" fill="none" stroke="#222" stroke-width="0.9" vector-effect="non-scaling-stroke"/>
<path d="M262,442 L250,425 L235,410 M230,422 L215,487 M300,475 L290,430 M262,442 L268,400 L282,330" fill="none" stroke="#222" stroke-width="0.9" vector-effect="non-scaling-stroke"/>
<path d="M650,190 L662,350 M700,120 L710,300 L720,330 M662,350 L720,380 M665,350 L700,300 L710,300" fill="none" stroke="#222" stroke-width="0.9" vector-effect="non-scaling-stroke"/>
</g>
<g transform="translate(103.00 82.00) scale(0.20833)">
<path d="M145,308 L485,116 M190,330 L525,140 M215,335 L540,152 M118,290 L450,100 M250,320 L280,335 M345,268 L375,283 M450,210 L480,225" fill="none" stroke="#222" stroke-width="0.9" vector-effect="non-scaling-stroke"/>
<path d="M170,340 L200,360 L230,345 M185,372 L215,355 L240,365 M100,335 L130,320 L165,335 M120,300 L140,330 M80,300 L100,290 L125,300" fill="none" stroke="#222" stroke-width="1.01" vector-effect="non-scaling-stroke"/>
<path d="M480,115 L560,118 L600,135 M560,118 L555,150 M575,125 L600,180 M500,100 L510,120" fill="none" stroke="#222" stroke-width="0.9" vector-effect="non-scaling-stroke"/>
</g>
<g transform="translate(1.00 265.00) scale(0.22222)">
<path d="M330,30 Q372,18 392,55 L408,112 M345,22 Q388,12 405,50 L425,105 M295,40 L298,52 L322,56 L335,48 M385,105 L390,120 L405,125 M440,115 L425,128 L405,125" fill="none" stroke="#222" stroke-width="1.01" vector-effect="non-scaling-stroke"/>
<circle cx="305" cy="30" r="4" fill="none" stroke="#2a2a2a" stroke-width="0.7" vector-effect="non-scaling-stroke"/>
</g>
<g transform="translate(163.00 302.00) scale(0.23613)">
<path d="M586,272 Q600,276 626,293 L634,340 L594,318 Z M640,200 L660,196 L690,215 L705,245 L700,250 M660,196 L665,210 M690,262 L695,330 M700,250 L706,320 L690,330 M612,240 L640,225 L655,232 M620,250 L650,240" fill="none" stroke="#222" stroke-width="1.01" vector-effect="non-scaling-stroke"/>
</g>
<g transform="translate(163.00 302.00) scale(0.23613)">
<path d="M160,380 L200,350 L270,320 M160,380 L152,440 L165,470 L158,520 L178,560 L180,585 L215,605 L300,585 L340,560 M160,380 L215,400 L225,600 M215,400 L270,372 L345,365 M175,395 L185,575 L215,605" fill="none" stroke="#222" stroke-width="1.12" vector-effect="non-scaling-stroke"/>
<path d="M185,352 l8,-10 l14,6 M212,340 l8,-10 l14,6 M240,328 l8,-10 l14,6 M165,410 h10 v22 h-10 M170,500 h10 v22 h-10" fill="none" stroke="#222" stroke-width="0.9" vector-effect="non-scaling-stroke"/>
<path d="M232,425 Q250,388 300,396 L332,420 L338,465 M250,430 Q265,405 300,410 L320,428 M270,372 L280,400 M345,365 L350,430 L338,465" fill="none" stroke="#222" stroke-width="1.01" vector-effect="non-scaling-stroke"/>
<circle cx="345" cy="428" r="6" fill="none" stroke="#2a2a2a" stroke-width="0.8" vector-effect="non-scaling-stroke"/>
<path d="M228,482 L290,466 L330,490 L372,480 L402,496 L412,522 L396,560 L372,546 L340,502 L336,560 M290,466 L294,520 L230,540 M330,490 L332,530 L294,520 M228,482 L232,570 L290,590 L332,530 M372,480 L368,530 L340,502 M402,496 L398,540" fill="none" stroke="#222" stroke-width="1.01" vector-effect="non-scaling-stroke"/>
<path d="M230,600 L300,560 L336,560 M250,595 L300,572 M300,585 L310,560" fill="none" stroke="#222" stroke-width="0.9" vector-effect="non-scaling-stroke"/>
<path d="M400,445 L590,350 M415,480 L600,382 M415,480 L420,520 L440,560 L600,470 L610,440 L600,382 M418,500 L605,410 M425,535 L608,440 M405,462 L595,365 M400,445 L415,480" fill="none" stroke="#222" stroke-width="1.01" vector-effect="non-scaling-stroke"/>
<path d="M490,420 L498,510 M498,418 L506,508 M486,445 L510,438 M490,490 L514,483" fill="none" stroke="#222" stroke-width="1.01" vector-effect="non-scaling-stroke"/>
<path d="M600,382 L640,400 L630,440 L610,440 M640,400 L650,420 L642,455 L630,440 M610,470 L650,500 L640,520" fill="none" stroke="#222" stroke-width="1.01" vector-effect="non-scaling-stroke"/>
<path d="M345,365 L378,405 L395,440 L400,445 M360,410 L378,405" fill="none" stroke="#222" stroke-width="1.01" vector-effect="non-scaling-stroke"/>
<path d="M340,560 L330,600 M396,560 L415,610 M412,522 L440,560" fill="none" stroke="#222" stroke-width="1.01" vector-effect="non-scaling-stroke"/>
<circle cx="350" cy="605" r="5" fill="none" stroke="#2a2a2a" stroke-width="0.7" vector-effect="non-scaling-stroke"/>
<circle cx="358" cy="630" r="5" fill="none" stroke="#2a2a2a" stroke-width="0.7" vector-effect="non-scaling-stroke"/>
</g>
</g>
<!--/DIAGRAM-->
</svg>
  <div id="back" class="abs">Назад</div>
  <div id="tbl" class="abs">
<svg class="abs" style="left:-2px;top:0" width="380" height="1118"><g stroke="#2b2b2b" fill="none"><line x1="2.5" y1="0" x2="2.5" y2="1118" stroke-width="1.25"/><line x1="378.6" y1="0" x2="378.6" y2="1118" stroke-width="1.1" stroke="#444"/><line x1="379.6" y1="0" x2="379.6" y2="1118" stroke-width="1" stroke="#999"/><line x1="2" x2="379" y1="30.20" y2="30.20" stroke-width="1.45"/><line x1="2" x2="379" y1="69.14" y2="69.14" stroke-width="1.45"/><line x1="2" x2="379" y1="108.08" y2="108.08" stroke-width="1.45"/><line x1="2" x2="379" y1="147.02" y2="147.02" stroke-width="1.45"/><line x1="2" x2="379" y1="185.96" y2="185.96" stroke-width="1.45"/><line x1="2" x2="379" y1="224.90" y2="224.90" stroke-width="1.45"/><line x1="2" x2="379" y1="263.84" y2="263.84" stroke-width="1.45"/><line x1="2" x2="379" y1="302.78" y2="302.78" stroke-width="1.45"/><line x1="2" x2="379" y1="341.72" y2="341.72" stroke-width="1.45"/><line x1="2" x2="379" y1="380.66" y2="380.66" stroke-width="1.45"/><line x1="2" x2="379" y1="419.60" y2="419.60" stroke-width="1.45"/><line x1="2" x2="379" y1="458.54" y2="458.54" stroke-width="1.45"/><line x1="2" x2="379" y1="497.48" y2="497.48" stroke-width="1.45"/><line x1="2" x2="379" y1="536.42" y2="536.42" stroke-width="1.45"/><line x1="2" x2="379" y1="575.36" y2="575.36" stroke-width="1.45"/><line x1="2" x2="379" y1="614.30" y2="614.30" stroke-width="1.45"/><line x1="2" x2="379" y1="653.24" y2="653.24" stroke-width="1.45"/><line x1="2" x2="379" y1="692.18" y2="692.18" stroke-width="1.45"/><line x1="2" x2="379" y1="731.12" y2="731.12" stroke-width="1.45"/><line x1="2" x2="379" y1="770.06" y2="770.06" stroke-width="1.45"/><line x1="2" x2="379" y1="809.00" y2="809.00" stroke-width="1.45"/><line x1="2" x2="379" y1="847.94" y2="847.94" stroke-width="1.45"/><line x1="2" x2="379" y1="886.88" y2="886.88" stroke-width="1.45"/><line x1="2" x2="379" y1="925.82" y2="925.82" stroke-width="1.45"/><line x1="2" x2="379" y1="964.76" y2="964.76" stroke-width="1.45"/><line x1="2" x2="379" y1="1003.70" y2="1003.70" stroke-width="1.45"/><line x1="2" x2="379" y1="1042.64" y2="1042.64" stroke-width="1.45"/><line x1="2" x2="379" y1="1081.58" y2="1081.58" stroke-width="1.45"/></g></svg>
<div class="row" style="top:-9.34px"><div class="p">&nbsp;<br>B</div></div>
<div class="row" style="top:29.60px"><div class="n">37</div><div class="p">4D0 819 225</div><div class="d">Прокладка</div><div class="q">1</div><div class="c">Цена</div></div>
<div class="row" style="top:68.54px"><div class="n">38</div><div class="p">4D0 820 351</div><div class="d">Корпус<br>воздухораспределителя</div><div class="q">1</div><div class="c">Цена</div></div>
<div class="row" style="top:107.48px"><div class="n">(38)</div><div class="p">4D0 819 353</div><div class="d">Корпус<br>воздухораспределителя</div><div class="r">Обогрев</div><div class="q">1</div><div class="c">Цена</div></div>
<div class="row" style="top:146.42px"><div class="n">-</div><div class="p">4D0 819 379<br>A</div><div class="d">Кронштейн для корпуса<br>воздухораспределителя</div><div class="r">Обогрев</div><div class="q">1</div><div class="c">Цена</div></div>
<div class="row" style="top:185.36px"><div class="n">39</div><div class="p">4D0 819 229</div><div class="d">Прокладка</div><div class="q">1</div><div class="c">Цена</div></div>
<div class="row" style="top:224.30px"><div class="n">40</div><div class="p">4D0 820 909</div><div class="d">Воздуховод с закрыв.<br>заслонкой</div><div class="r">лев. верхн.</div><div class="q">1</div><div class="c">Цена</div></div>
<div class="row" style="top:263.24px"><div class="n">(40)</div><div class="p">4D0 820 910</div><div class="d">Воздуховод с закрыв.<br>заслонкой</div><div class="r">прав. верхн.</div><div class="q">1</div><div class="c">Цена</div></div>
<div class="row" style="top:302.18px"><div class="n">(40)</div><div class="p">4D0 820 913</div><div class="d">Воздуховод с закрыв.<br>заслонкой</div><div class="r">лев. нижн.</div><div class="q">1</div><div class="c">Цена</div></div>
<div class="row" style="top:341.12px"><div class="n">(40)</div><div class="p">4D0 820 914</div><div class="d">Воздуховод с закрыв.<br>заслонкой</div><div class="r">прав. нижн.</div><div class="q">1</div><div class="c">Цена</div></div>
<div class="row" style="top:380.06px"><div class="n">(40)</div><div class="p">4D0 819 279</div><div class="d">Воздуховод с закрыв.<br>заслонкой</div><div class="r">лев. верхн.<br>Обогрев</div><div class="q">1</div><div class="c">Цена</div></div>
<div class="row" style="top:419.00px"><div class="n">(40)</div><div class="p">4D0 819 280</div><div class="d">Воздуховод с закрыв.<br>заслонкой</div><div class="r">прав. верхн.<br>Обогрев</div><div class="q">1</div><div class="c">Цена</div></div>
<div class="row" style="top:457.94px"><div class="n">(40)</div><div class="p">4D0 819 281</div><div class="d">Воздуховод с закрыв.<br>заслонкой</div><div class="r">лев. нижн.<br>Обогрев</div><div class="q">1</div><div class="c">Цена</div></div>
<div class="row" style="top:496.88px"><div class="n">(40)</div><div class="p">4D0 819 282</div><div class="d">Воздуховод с закрыв.<br>заслонкой</div><div class="r">прав. нижн.<br>Обогрев</div><div class="q">1</div><div class="c">Цена</div></div>
<div class="row" style="top:535.82px"><div class="n">41</div><div class="p">4D0 819 295</div><div class="d">Рычаг заслонки оттаивателя</div><div class="r">верхн.</div><div class="q">1</div><div class="c">Цена</div></div>
<div class="row" style="top:574.76px"><div class="n">42</div><div class="p">4D0 820 357</div><div class="d">Рычаг закрытия заслонки<br>горя- чего воздуха</div><div class="r">средн.</div><div class="q">1</div><div class="c">Цена</div></div>
<div class="row" style="top:613.70px"><div class="n">43</div><div class="p">4D0 819 291</div><div class="d">Рычаг заслонки<br>приточн.воздуха</div><div class="q">1</div><div class="c">Цена</div></div>
<div class="row" style="top:652.64px"><div class="n">43A</div><div class="p">4D0 820 357<br>A</div><div class="d">Рычаг<br>Дефлектор пространства для<br>ног</div><div class="q">1</div><div class="c">Цена</div></div>
<div class="row" style="top:691.58px"><div class="n">44</div><div class="p">4D0 819 646</div><div class="d">Зажим</div><div class="q">18</div><div class="c">Цена</div></div>
<div class="row" style="top:730.52px"><div class="n">45</div><div class="p">4D0 820 511</div><div class="d">Электромотор</div><div class="q">2</div><div class="c">Цена</div></div>
<div class="row" style="top:769.46px"><div class="n">46</div><div class="p">4D0 819 422</div><div class="d">Крышка</div><div class="q">2</div><div class="c">Цена</div></div>
<div class="row" style="top:808.40px"><div class="n">47</div><div class="p">4D0 820 511<br>A</div><div class="d">Электромотор</div><div class="q">8</div><div class="c">Цена</div></div>
<div class="row" style="top:847.34px"><div class="n">48</div><div class="p">N90 030 301</div><div class="d">Саморез</div><div class="r">4,2X35</div><div class="q">4</div><div class="c">Цена</div></div>
<div class="row" style="top:886.28px"><div class="n">49</div><div class="p">N90 659 601</div><div class="d">Саморез по металлу</div><div class="r">3X32</div><div class="q">16</div><div class="c">Цена</div></div>
<div class="row" style="top:925.22px"><div class="n">50</div><div class="d">см. панель иллюстраций:</div><div class="r">819-060</div><div class="q">1</div></div>
<div class="row" style="top:964.16px"><div class="n">51</div><div class="p">4D0 820 147</div><div class="d">Уголок</div><div class="q">1</div><div class="c">Цена</div></div>
<div class="row" style="top:1003.10px"><div class="n">52</div><div class="p">N 090 14 83</div><div class="d">Болт с шестигр. гол. (комби)</div><div class="r">M6X15Z2</div><div class="q">1</div><div class="c">Цена</div></div>
<div class="row" style="top:1042.04px"><div class="n">53</div><div class="p">N90 367 502</div><div class="d">Гайка с буртиком<br>самостопорящ.</div><div class="r">M6</div><div class="q">3</div><div class="c">Цена</div></div>
<div class="row" style="top:1080.98px"><div class="n">-</div><div class="p">N90 652 901</div><div class="d">Болт с шестигранной<br>головкой</div><div class="r">M6X40</div><div class="q">4</div><div class="c">Цена</div></div>
</div>
</div>
</body>
</html>
